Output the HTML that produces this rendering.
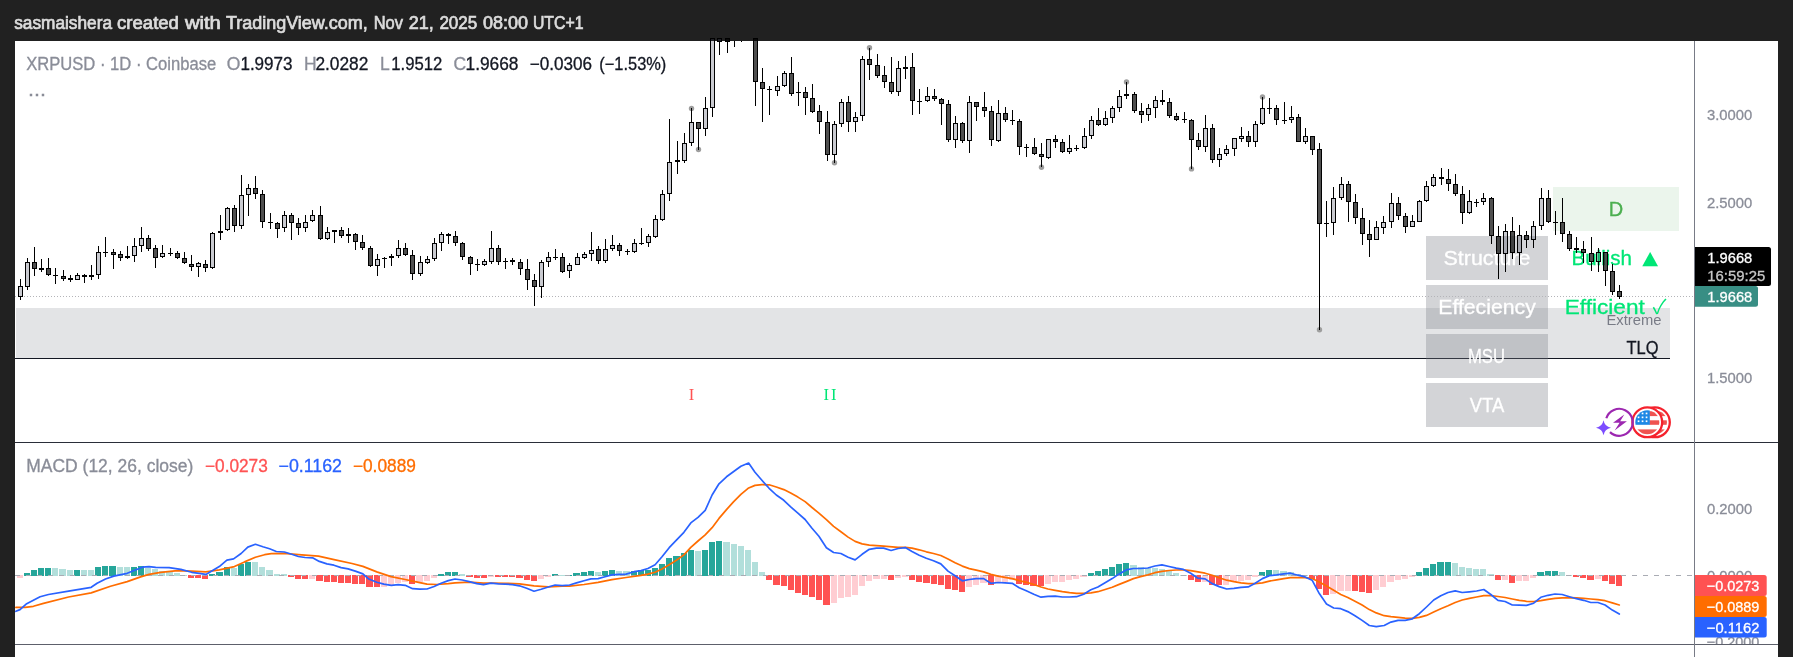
<!DOCTYPE html>
<html><head><meta charset="utf-8"><title>XRPUSD chart</title>
<style>html,body{margin:0;padding:0;background:#212121;overflow:hidden}body{width:1793px;height:657px;position:relative;font-family:"Liberation Sans",sans-serif}</style>
</head><body>
<svg width="1793" height="657" viewBox="0 0 1793 657" style="position:absolute;left:0;top:0;will-change:transform">
<rect x="15" y="41" width="1763" height="616" fill="#fff"/>
<g shape-rendering="crispEdges">
<rect x="16" y="308" width="1654" height="50" fill="#e3e4e6"/>
<rect x="15" y="358" width="1655" height="1" fill="#131722"/>
<rect x="1553" y="187" width="126" height="43.5" fill="#ebf5ec"/>
<rect x="1426" y="236" width="122" height="43.5" fill="rgb(120,123,134)" fill-opacity="0.33"/>
<rect x="1426" y="285" width="122" height="43.5" fill="rgb(120,123,134)" fill-opacity="0.33"/>
<rect x="1426" y="334" width="122" height="43.5" fill="rgb(120,123,134)" fill-opacity="0.33"/>
<rect x="1426" y="383" width="122" height="43.5" fill="rgb(120,123,134)" fill-opacity="0.33"/>
</g>
<line x1="15" y1="296.5" x2="1694" y2="296.5" stroke="#b4b4b8" stroke-width="1" stroke-dasharray="1 2" shape-rendering="crispEdges"/>
<text x="1616" y="216.4" font-size="20" fill="#4caf50" text-anchor="middle" font-weight="normal" style="font-family:'Liberation Sans',sans-serif"  stroke="#4caf50" stroke-width="0.3">D</text>
<text x="1487" y="264.8" font-size="20" fill="#fff" text-anchor="middle" font-weight="normal" style="font-family:'Liberation Sans',sans-serif" textLength="87" lengthAdjust="spacingAndGlyphs"  stroke="#fff" stroke-width="0.3">Structure</text>
<text x="1487" y="314" font-size="20" fill="#fff" text-anchor="middle" font-weight="normal" style="font-family:'Liberation Sans',sans-serif" textLength="97.5" lengthAdjust="spacingAndGlyphs"  stroke="#fff" stroke-width="0.3">Effeciency</text>
<text x="1486.5" y="363.3" font-size="20" fill="#fff" text-anchor="middle" font-weight="normal" style="font-family:'Liberation Sans',sans-serif" textLength="37" lengthAdjust="spacingAndGlyphs"  stroke="#fff" stroke-width="0.3">MSU</text>
<text x="1487" y="412.2" font-size="20" fill="#fff" text-anchor="middle" font-weight="normal" style="font-family:'Liberation Sans',sans-serif" textLength="34.5" lengthAdjust="spacingAndGlyphs"  stroke="#fff" stroke-width="0.3">VTA</text>
<text x="1571.5" y="264.8" font-size="20" fill="#00e676" text-anchor="start" font-weight="normal" style="font-family:'Liberation Sans',sans-serif" textLength="60.5" lengthAdjust="spacingAndGlyphs"  stroke="#00e676" stroke-width="0.3">Bullish</text>
<text x="1642.3" y="263.6" font-size="18.5" fill="#00e676" textLength="15.8" lengthAdjust="spacingAndGlyphs" style="font-family:'DejaVu Sans',sans-serif">▲</text>
<text x="1564.8" y="314" font-size="20" fill="#00e676" text-anchor="start" font-weight="normal" style="font-family:'Liberation Sans',sans-serif" textLength="80" lengthAdjust="spacingAndGlyphs"  stroke="#00e676" stroke-width="0.3">Efficient</text>
<text x="1652.7" y="314.2" font-size="20" fill="#00e676" style="font-family:'Noto Sans CJK JP',sans-serif">✓</text>
<text x="1661.5" y="325" font-size="15" fill="#787b86" text-anchor="end" font-weight="normal" style="font-family:'Liberation Sans',sans-serif" textLength="55" lengthAdjust="spacingAndGlyphs" >Extreme</text>
<text x="1658.5" y="354.3" font-size="17.5" fill="#131722" text-anchor="end" font-weight="normal" style="font-family:'Liberation Sans',sans-serif" textLength="32" lengthAdjust="spacingAndGlyphs"  stroke="#131722" stroke-width="0.3">TLQ</text>
<text x="691.5" y="399.5" font-size="16.5" fill="#ff5252" text-anchor="middle" style="font-family:'Liberation Serif',serif">I</text>
<text x="831" y="399.5" font-size="16.5" fill="#00e676" text-anchor="middle" letter-spacing="2" style="font-family:'Liberation Serif',serif">II</text>
<circle cx="691.5" cy="108.4" r="2.7" fill="#9e9e9e"/>
<circle cx="698.5" cy="149.5" r="2.7" fill="#9e9e9e"/>
<circle cx="834.5" cy="162.8" r="2.7" fill="#9e9e9e"/>
<circle cx="869.5" cy="47.7" r="2.7" fill="#9e9e9e"/>
<circle cx="1041.5" cy="167.2" r="2.7" fill="#9e9e9e"/>
<circle cx="1126.5" cy="82.0" r="2.7" fill="#9e9e9e"/>
<circle cx="1191.5" cy="168.9" r="2.7" fill="#9e9e9e"/>
<circle cx="1262.5" cy="96.9" r="2.7" fill="#9e9e9e"/>
<circle cx="1319.5" cy="329.8" r="2.7" fill="#9e9e9e"/>
<g shape-rendering="crispEdges">
<rect x="20.0" y="279" width="1" height="7" fill="#000"/>
<rect x="20.0" y="297" width="1" height="3" fill="#000"/>
<path d="M18.0,286h5v11h-5z M19.0,287v9h3v-9z" fill="#000" fill-rule="evenodd"/>
<rect x="19.0" y="287" width="3" height="9" fill="#1e223c" fill-opacity="0.24"/>
<rect x="27.0" y="258" width="1" height="4" fill="#000"/>
<rect x="27.0" y="287" width="1" height="3" fill="#000"/>
<path d="M25.0,262h5v25h-5z M26.0,263v23h3v-23z" fill="#000" fill-rule="evenodd"/>
<rect x="26.0" y="263" width="3" height="23" fill="#1e223c" fill-opacity="0.24"/>
<rect x="34.0" y="247" width="1" height="15" fill="#000"/>
<rect x="34.0" y="269" width="1" height="7" fill="#000"/>
<path d="M32.0,262h5v7h-5z M33.0,263v5h3v-5z" fill="#000" fill-rule="evenodd"/>
<rect x="33.0" y="263" width="3" height="5" fill="#000" fill-opacity="0.69"/>
<rect x="41.0" y="259" width="1" height="9" fill="#000"/>
<rect x="41.0" y="270" width="1" height="2" fill="#000"/>
<rect x="39.0" y="268" width="5" height="2" fill="#000"/>
<rect x="48.0" y="258" width="1" height="10" fill="#000"/>
<rect x="48.0" y="275" width="1" height="1" fill="#000"/>
<path d="M46.0,268h5v7h-5z M47.0,269v5h3v-5z" fill="#000" fill-rule="evenodd"/>
<rect x="47.0" y="269" width="3" height="5" fill="#000" fill-opacity="0.69"/>
<rect x="55.0" y="268" width="1" height="7" fill="#000"/>
<rect x="55.0" y="276" width="1" height="8" fill="#000"/>
<rect x="53.0" y="275" width="5" height="1" fill="#000"/>
<rect x="63.0" y="270" width="1" height="6" fill="#000"/>
<rect x="63.0" y="279" width="1" height="2" fill="#000"/>
<path d="M61.0,276h5v3h-5z M62.0,277v1h3v-1z" fill="#000" fill-rule="evenodd"/>
<rect x="62.0" y="277" width="3" height="1" fill="#000" fill-opacity="0.69"/>
<rect x="70.0" y="275" width="1" height="3" fill="#000"/>
<rect x="70.0" y="280" width="1" height="2" fill="#000"/>
<rect x="68.0" y="278" width="5" height="2" fill="#000"/>
<rect x="77.0" y="273" width="1" height="2" fill="#000"/>
<path d="M75.0,275h5v5h-5z M76.0,276v3h3v-3z" fill="#000" fill-rule="evenodd"/>
<rect x="76.0" y="276" width="3" height="3" fill="#1e223c" fill-opacity="0.24"/>
<rect x="84.0" y="274" width="1" height="1" fill="#000"/>
<rect x="84.0" y="277" width="1" height="6" fill="#000"/>
<rect x="82.0" y="275" width="5" height="2" fill="#000"/>
<rect x="91.0" y="265" width="1" height="10" fill="#000"/>
<rect x="91.0" y="277" width="1" height="3" fill="#000"/>
<rect x="89.0" y="275" width="5" height="2" fill="#000"/>
<rect x="98.0" y="246" width="1" height="6" fill="#000"/>
<rect x="98.0" y="275" width="1" height="4" fill="#000"/>
<path d="M96.0,252h5v23h-5z M97.0,253v21h3v-21z" fill="#000" fill-rule="evenodd"/>
<rect x="97.0" y="253" width="3" height="21" fill="#1e223c" fill-opacity="0.24"/>
<rect x="105.0" y="237" width="1" height="15" fill="#000"/>
<rect x="105.0" y="253" width="1" height="4" fill="#000"/>
<rect x="103.0" y="252" width="5" height="1" fill="#000"/>
<rect x="113.0" y="249" width="1" height="3" fill="#000"/>
<rect x="113.0" y="255" width="1" height="14" fill="#000"/>
<path d="M111.0,252h5v3h-5z M112.0,253v1h3v-1z" fill="#000" fill-rule="evenodd"/>
<rect x="112.0" y="253" width="3" height="1" fill="#000" fill-opacity="0.69"/>
<rect x="120.0" y="251" width="1" height="3" fill="#000"/>
<rect x="120.0" y="258" width="1" height="3" fill="#000"/>
<path d="M118.0,254h5v4h-5z M119.0,255v2h3v-2z" fill="#000" fill-rule="evenodd"/>
<rect x="119.0" y="255" width="3" height="2" fill="#000" fill-opacity="0.69"/>
<rect x="127.0" y="246" width="1" height="10" fill="#000"/>
<rect x="127.0" y="258" width="1" height="1" fill="#000"/>
<rect x="125.0" y="256" width="5" height="2" fill="#000"/>
<rect x="134.0" y="238" width="1" height="8" fill="#000"/>
<rect x="134.0" y="256" width="1" height="6" fill="#000"/>
<path d="M132.0,246h5v10h-5z M133.0,247v8h3v-8z" fill="#000" fill-rule="evenodd"/>
<rect x="133.0" y="247" width="3" height="8" fill="#1e223c" fill-opacity="0.24"/>
<rect x="141.0" y="227" width="1" height="11" fill="#000"/>
<rect x="141.0" y="246" width="1" height="6" fill="#000"/>
<path d="M139.0,238h5v8h-5z M140.0,239v6h3v-6z" fill="#000" fill-rule="evenodd"/>
<rect x="140.0" y="239" width="3" height="6" fill="#1e223c" fill-opacity="0.24"/>
<rect x="148.0" y="235" width="1" height="3" fill="#000"/>
<rect x="148.0" y="249" width="1" height="2" fill="#000"/>
<path d="M146.0,238h5v11h-5z M147.0,239v9h3v-9z" fill="#000" fill-rule="evenodd"/>
<rect x="147.0" y="239" width="3" height="9" fill="#000" fill-opacity="0.69"/>
<rect x="155.0" y="245" width="1" height="3" fill="#000"/>
<rect x="155.0" y="258" width="1" height="10" fill="#000"/>
<path d="M153.0,248h5v10h-5z M154.0,249v8h3v-8z" fill="#000" fill-rule="evenodd"/>
<rect x="154.0" y="249" width="3" height="8" fill="#000" fill-opacity="0.69"/>
<rect x="162.0" y="245" width="1" height="8" fill="#000"/>
<rect x="162.0" y="257" width="1" height="1" fill="#000"/>
<path d="M160.0,253h5v4h-5z M161.0,254v2h3v-2z" fill="#000" fill-rule="evenodd"/>
<rect x="161.0" y="254" width="3" height="2" fill="#1e223c" fill-opacity="0.24"/>
<rect x="170.0" y="248" width="1" height="5" fill="#000"/>
<rect x="170.0" y="254" width="1" height="2" fill="#000"/>
<rect x="168.0" y="253" width="5" height="1" fill="#000"/>
<rect x="177.0" y="251" width="1" height="2" fill="#000"/>
<rect x="177.0" y="258" width="1" height="1" fill="#000"/>
<path d="M175.0,253h5v5h-5z M176.0,254v3h3v-3z" fill="#000" fill-rule="evenodd"/>
<rect x="176.0" y="254" width="3" height="3" fill="#000" fill-opacity="0.69"/>
<rect x="184.0" y="252" width="1" height="6" fill="#000"/>
<rect x="184.0" y="263" width="1" height="1" fill="#000"/>
<path d="M182.0,258h5v5h-5z M183.0,259v3h3v-3z" fill="#000" fill-rule="evenodd"/>
<rect x="183.0" y="259" width="3" height="3" fill="#000" fill-opacity="0.69"/>
<rect x="191.0" y="255" width="1" height="9" fill="#000"/>
<rect x="191.0" y="267" width="1" height="4" fill="#000"/>
<path d="M189.0,264h5v3h-5z M190.0,265v1h3v-1z" fill="#000" fill-rule="evenodd"/>
<rect x="190.0" y="265" width="3" height="1" fill="#000" fill-opacity="0.69"/>
<rect x="198.0" y="262" width="1" height="1" fill="#000"/>
<rect x="198.0" y="267" width="1" height="10" fill="#000"/>
<path d="M196.0,263h5v4h-5z M197.0,264v2h3v-2z" fill="#000" fill-rule="evenodd"/>
<rect x="197.0" y="264" width="3" height="2" fill="#1e223c" fill-opacity="0.24"/>
<rect x="205.0" y="260" width="1" height="4" fill="#000"/>
<rect x="205.0" y="268" width="1" height="4" fill="#000"/>
<path d="M203.0,264h5v4h-5z M204.0,265v2h3v-2z" fill="#000" fill-rule="evenodd"/>
<rect x="204.0" y="265" width="3" height="2" fill="#000" fill-opacity="0.69"/>
<rect x="212.0" y="232" width="1" height="1" fill="#000"/>
<rect x="212.0" y="268" width="1" height="1" fill="#000"/>
<path d="M210.0,233h5v35h-5z M211.0,234v33h3v-33z" fill="#000" fill-rule="evenodd"/>
<rect x="211.0" y="234" width="3" height="33" fill="#1e223c" fill-opacity="0.24"/>
<rect x="220.0" y="215" width="1" height="16" fill="#000"/>
<rect x="220.0" y="233" width="1" height="7" fill="#000"/>
<rect x="218.0" y="231" width="5" height="2" fill="#000"/>
<rect x="227.0" y="207" width="1" height="1" fill="#000"/>
<rect x="227.0" y="230" width="1" height="1" fill="#000"/>
<path d="M225.0,208h5v22h-5z M226.0,209v20h3v-20z" fill="#000" fill-rule="evenodd"/>
<rect x="226.0" y="209" width="3" height="20" fill="#1e223c" fill-opacity="0.24"/>
<rect x="234.0" y="205" width="1" height="3" fill="#000"/>
<rect x="234.0" y="226" width="1" height="6" fill="#000"/>
<path d="M232.0,208h5v18h-5z M233.0,209v16h3v-16z" fill="#000" fill-rule="evenodd"/>
<rect x="233.0" y="209" width="3" height="16" fill="#000" fill-opacity="0.69"/>
<rect x="241.0" y="175" width="1" height="20" fill="#000"/>
<rect x="241.0" y="226" width="1" height="3" fill="#000"/>
<path d="M239.0,195h5v31h-5z M240.0,196v29h3v-29z" fill="#000" fill-rule="evenodd"/>
<rect x="240.0" y="196" width="3" height="29" fill="#1e223c" fill-opacity="0.24"/>
<rect x="248.0" y="184" width="1" height="4" fill="#000"/>
<rect x="248.0" y="195" width="1" height="21" fill="#000"/>
<path d="M246.0,188h5v7h-5z M247.0,189v5h3v-5z" fill="#000" fill-rule="evenodd"/>
<rect x="247.0" y="189" width="3" height="5" fill="#1e223c" fill-opacity="0.24"/>
<rect x="255.0" y="176" width="1" height="12" fill="#000"/>
<rect x="255.0" y="194" width="1" height="5" fill="#000"/>
<path d="M253.0,188h5v6h-5z M254.0,189v4h3v-4z" fill="#000" fill-rule="evenodd"/>
<rect x="254.0" y="189" width="3" height="4" fill="#000" fill-opacity="0.69"/>
<rect x="262.0" y="190" width="1" height="4" fill="#000"/>
<rect x="262.0" y="222" width="1" height="6" fill="#000"/>
<path d="M260.0,194h5v28h-5z M261.0,195v26h3v-26z" fill="#000" fill-rule="evenodd"/>
<rect x="261.0" y="195" width="3" height="26" fill="#000" fill-opacity="0.69"/>
<rect x="270.0" y="213" width="1" height="9" fill="#000"/>
<rect x="270.0" y="223" width="1" height="6" fill="#000"/>
<rect x="268.0" y="222" width="5" height="1" fill="#000"/>
<rect x="277.0" y="222" width="1" height="1" fill="#000"/>
<rect x="277.0" y="229" width="1" height="9" fill="#000"/>
<path d="M275.0,223h5v6h-5z M276.0,224v4h3v-4z" fill="#000" fill-rule="evenodd"/>
<rect x="276.0" y="224" width="3" height="4" fill="#000" fill-opacity="0.69"/>
<rect x="284.0" y="211" width="1" height="4" fill="#000"/>
<rect x="284.0" y="228" width="1" height="4" fill="#000"/>
<path d="M282.0,215h5v13h-5z M283.0,216v11h3v-11z" fill="#000" fill-rule="evenodd"/>
<rect x="283.0" y="216" width="3" height="11" fill="#1e223c" fill-opacity="0.24"/>
<rect x="291.0" y="213" width="1" height="2" fill="#000"/>
<rect x="291.0" y="223" width="1" height="17" fill="#000"/>
<path d="M289.0,215h5v8h-5z M290.0,216v6h3v-6z" fill="#000" fill-rule="evenodd"/>
<rect x="290.0" y="216" width="3" height="6" fill="#000" fill-opacity="0.69"/>
<rect x="298.0" y="218" width="1" height="5" fill="#000"/>
<rect x="298.0" y="228" width="1" height="7" fill="#000"/>
<path d="M296.0,223h5v5h-5z M297.0,224v3h3v-3z" fill="#000" fill-rule="evenodd"/>
<rect x="297.0" y="224" width="3" height="3" fill="#000" fill-opacity="0.69"/>
<rect x="305.0" y="215" width="1" height="7" fill="#000"/>
<rect x="305.0" y="228" width="1" height="4" fill="#000"/>
<path d="M303.0,222h5v6h-5z M304.0,223v4h3v-4z" fill="#000" fill-rule="evenodd"/>
<rect x="304.0" y="223" width="3" height="4" fill="#1e223c" fill-opacity="0.24"/>
<rect x="312.0" y="210" width="1" height="5" fill="#000"/>
<rect x="312.0" y="221" width="1" height="1" fill="#000"/>
<path d="M310.0,215h5v6h-5z M311.0,216v4h3v-4z" fill="#000" fill-rule="evenodd"/>
<rect x="311.0" y="216" width="3" height="4" fill="#1e223c" fill-opacity="0.24"/>
<rect x="320.0" y="206" width="1" height="9" fill="#000"/>
<rect x="320.0" y="239" width="1" height="1" fill="#000"/>
<path d="M318.0,215h5v24h-5z M319.0,216v22h3v-22z" fill="#000" fill-rule="evenodd"/>
<rect x="319.0" y="216" width="3" height="22" fill="#000" fill-opacity="0.69"/>
<rect x="327.0" y="227" width="1" height="5" fill="#000"/>
<rect x="327.0" y="239" width="1" height="1" fill="#000"/>
<path d="M325.0,232h5v7h-5z M326.0,233v5h3v-5z" fill="#000" fill-rule="evenodd"/>
<rect x="326.0" y="233" width="3" height="5" fill="#1e223c" fill-opacity="0.24"/>
<rect x="334.0" y="232" width="1" height="11" fill="#000"/>
<rect x="332.0" y="230" width="5" height="2" fill="#000"/>
<rect x="341.0" y="227" width="1" height="3" fill="#000"/>
<rect x="341.0" y="236" width="1" height="2" fill="#000"/>
<path d="M339.0,230h5v6h-5z M340.0,231v4h3v-4z" fill="#000" fill-rule="evenodd"/>
<rect x="340.0" y="231" width="3" height="4" fill="#000" fill-opacity="0.69"/>
<rect x="348.0" y="228" width="1" height="6" fill="#000"/>
<rect x="348.0" y="236" width="1" height="7" fill="#000"/>
<rect x="346.0" y="234" width="5" height="2" fill="#000"/>
<rect x="355.0" y="233" width="1" height="1" fill="#000"/>
<rect x="355.0" y="242" width="1" height="8" fill="#000"/>
<path d="M353.0,234h5v8h-5z M354.0,235v6h3v-6z" fill="#000" fill-rule="evenodd"/>
<rect x="354.0" y="235" width="3" height="6" fill="#000" fill-opacity="0.69"/>
<rect x="362.0" y="235" width="1" height="7" fill="#000"/>
<rect x="362.0" y="248" width="1" height="2" fill="#000"/>
<path d="M360.0,242h5v6h-5z M361.0,243v4h3v-4z" fill="#000" fill-rule="evenodd"/>
<rect x="361.0" y="243" width="3" height="4" fill="#000" fill-opacity="0.69"/>
<rect x="370.0" y="246" width="1" height="2" fill="#000"/>
<rect x="370.0" y="266" width="1" height="1" fill="#000"/>
<path d="M368.0,248h5v18h-5z M369.0,249v16h3v-16z" fill="#000" fill-rule="evenodd"/>
<rect x="369.0" y="249" width="3" height="16" fill="#000" fill-opacity="0.69"/>
<rect x="377.0" y="254" width="1" height="5" fill="#000"/>
<rect x="377.0" y="266" width="1" height="10" fill="#000"/>
<path d="M375.0,259h5v7h-5z M376.0,260v5h3v-5z" fill="#000" fill-rule="evenodd"/>
<rect x="376.0" y="260" width="3" height="5" fill="#1e223c" fill-opacity="0.24"/>
<rect x="384.0" y="257" width="1" height="1" fill="#000"/>
<rect x="384.0" y="258" width="1" height="10" fill="#000"/>
<rect x="382.0" y="258" width="5" height="1" fill="#000"/>
<rect x="391.0" y="254" width="1" height="2" fill="#000"/>
<rect x="391.0" y="258" width="1" height="8" fill="#000"/>
<rect x="389.0" y="256" width="5" height="2" fill="#000"/>
<rect x="398.0" y="240" width="1" height="8" fill="#000"/>
<rect x="398.0" y="256" width="1" height="2" fill="#000"/>
<path d="M396.0,248h5v8h-5z M397.0,249v6h3v-6z" fill="#000" fill-rule="evenodd"/>
<rect x="397.0" y="249" width="3" height="6" fill="#1e223c" fill-opacity="0.24"/>
<rect x="405.0" y="243" width="1" height="5" fill="#000"/>
<rect x="405.0" y="255" width="1" height="1" fill="#000"/>
<path d="M403.0,248h5v7h-5z M404.0,249v5h3v-5z" fill="#000" fill-rule="evenodd"/>
<rect x="404.0" y="249" width="3" height="5" fill="#000" fill-opacity="0.69"/>
<rect x="412.0" y="250" width="1" height="5" fill="#000"/>
<rect x="412.0" y="274" width="1" height="6" fill="#000"/>
<path d="M410.0,255h5v19h-5z M411.0,256v17h3v-17z" fill="#000" fill-rule="evenodd"/>
<rect x="411.0" y="256" width="3" height="17" fill="#000" fill-opacity="0.69"/>
<rect x="420.0" y="256" width="1" height="6" fill="#000"/>
<rect x="420.0" y="274" width="1" height="2" fill="#000"/>
<path d="M418.0,262h5v12h-5z M419.0,263v10h3v-10z" fill="#000" fill-rule="evenodd"/>
<rect x="419.0" y="263" width="3" height="10" fill="#1e223c" fill-opacity="0.24"/>
<rect x="427.0" y="256" width="1" height="3" fill="#000"/>
<rect x="427.0" y="263" width="1" height="1" fill="#000"/>
<path d="M425.0,259h5v4h-5z M426.0,260v2h3v-2z" fill="#000" fill-rule="evenodd"/>
<rect x="426.0" y="260" width="3" height="2" fill="#1e223c" fill-opacity="0.24"/>
<rect x="434.0" y="238" width="1" height="5" fill="#000"/>
<rect x="434.0" y="259" width="1" height="2" fill="#000"/>
<path d="M432.0,243h5v16h-5z M433.0,244v14h3v-14z" fill="#000" fill-rule="evenodd"/>
<rect x="433.0" y="244" width="3" height="14" fill="#1e223c" fill-opacity="0.24"/>
<rect x="441.0" y="232" width="1" height="2" fill="#000"/>
<rect x="441.0" y="243" width="1" height="8" fill="#000"/>
<path d="M439.0,234h5v9h-5z M440.0,235v7h3v-7z" fill="#000" fill-rule="evenodd"/>
<rect x="440.0" y="235" width="3" height="7" fill="#1e223c" fill-opacity="0.24"/>
<rect x="448.0" y="233" width="1" height="1" fill="#000"/>
<rect x="448.0" y="236" width="1" height="8" fill="#000"/>
<rect x="446.0" y="234" width="5" height="2" fill="#000"/>
<rect x="455.0" y="231" width="1" height="5" fill="#000"/>
<rect x="455.0" y="243" width="1" height="3" fill="#000"/>
<path d="M453.0,236h5v7h-5z M454.0,237v5h3v-5z" fill="#000" fill-rule="evenodd"/>
<rect x="454.0" y="237" width="3" height="5" fill="#000" fill-opacity="0.69"/>
<rect x="462.0" y="242" width="1" height="1" fill="#000"/>
<rect x="462.0" y="257" width="1" height="3" fill="#000"/>
<path d="M460.0,243h5v14h-5z M461.0,244v12h3v-12z" fill="#000" fill-rule="evenodd"/>
<rect x="461.0" y="244" width="3" height="12" fill="#000" fill-opacity="0.69"/>
<rect x="470.0" y="256" width="1" height="1" fill="#000"/>
<rect x="470.0" y="264" width="1" height="11" fill="#000"/>
<path d="M468.0,257h5v7h-5z M469.0,258v5h3v-5z" fill="#000" fill-rule="evenodd"/>
<rect x="469.0" y="258" width="3" height="5" fill="#000" fill-opacity="0.69"/>
<rect x="477.0" y="259" width="1" height="5" fill="#000"/>
<rect x="477.0" y="265" width="1" height="6" fill="#000"/>
<rect x="475.0" y="264" width="5" height="1" fill="#000"/>
<rect x="484.0" y="259" width="1" height="2" fill="#000"/>
<rect x="484.0" y="265" width="1" height="1" fill="#000"/>
<path d="M482.0,261h5v4h-5z M483.0,262v2h3v-2z" fill="#000" fill-rule="evenodd"/>
<rect x="483.0" y="262" width="3" height="2" fill="#1e223c" fill-opacity="0.24"/>
<rect x="491.0" y="231" width="1" height="17" fill="#000"/>
<rect x="491.0" y="262" width="1" height="2" fill="#000"/>
<path d="M489.0,248h5v14h-5z M490.0,249v12h3v-12z" fill="#000" fill-rule="evenodd"/>
<rect x="490.0" y="249" width="3" height="12" fill="#1e223c" fill-opacity="0.24"/>
<rect x="498.0" y="245" width="1" height="3" fill="#000"/>
<rect x="498.0" y="262" width="1" height="3" fill="#000"/>
<path d="M496.0,248h5v14h-5z M497.0,249v12h3v-12z" fill="#000" fill-rule="evenodd"/>
<rect x="497.0" y="249" width="3" height="12" fill="#000" fill-opacity="0.69"/>
<rect x="505.0" y="258" width="1" height="3" fill="#000"/>
<rect x="505.0" y="262" width="1" height="7" fill="#000"/>
<rect x="503.0" y="261" width="5" height="1" fill="#000"/>
<rect x="512.0" y="258" width="1" height="2" fill="#000"/>
<rect x="512.0" y="262" width="1" height="3" fill="#000"/>
<rect x="510.0" y="260" width="5" height="2" fill="#000"/>
<rect x="520.0" y="259" width="1" height="3" fill="#000"/>
<rect x="520.0" y="269" width="1" height="6" fill="#000"/>
<path d="M518.0,262h5v7h-5z M519.0,263v5h3v-5z" fill="#000" fill-rule="evenodd"/>
<rect x="519.0" y="263" width="3" height="5" fill="#000" fill-opacity="0.69"/>
<rect x="527.0" y="259" width="1" height="10" fill="#000"/>
<rect x="527.0" y="280" width="1" height="10" fill="#000"/>
<path d="M525.0,269h5v11h-5z M526.0,270v9h3v-9z" fill="#000" fill-rule="evenodd"/>
<rect x="526.0" y="270" width="3" height="9" fill="#000" fill-opacity="0.69"/>
<rect x="534.0" y="274" width="1" height="6" fill="#000"/>
<rect x="534.0" y="287" width="1" height="19" fill="#000"/>
<path d="M532.0,280h5v7h-5z M533.0,281v5h3v-5z" fill="#000" fill-rule="evenodd"/>
<rect x="533.0" y="281" width="3" height="5" fill="#000" fill-opacity="0.69"/>
<rect x="541.0" y="260" width="1" height="2" fill="#000"/>
<rect x="541.0" y="287" width="1" height="11" fill="#000"/>
<path d="M539.0,262h5v25h-5z M540.0,263v23h3v-23z" fill="#000" fill-rule="evenodd"/>
<rect x="540.0" y="263" width="3" height="23" fill="#1e223c" fill-opacity="0.24"/>
<rect x="548.0" y="252" width="1" height="5" fill="#000"/>
<rect x="548.0" y="262" width="1" height="5" fill="#000"/>
<path d="M546.0,257h5v5h-5z M547.0,258v3h3v-3z" fill="#000" fill-rule="evenodd"/>
<rect x="547.0" y="258" width="3" height="3" fill="#1e223c" fill-opacity="0.24"/>
<rect x="555.0" y="249" width="1" height="8" fill="#000"/>
<rect x="555.0" y="258" width="1" height="2" fill="#000"/>
<rect x="553.0" y="257" width="5" height="1" fill="#000"/>
<rect x="562.0" y="253" width="1" height="4" fill="#000"/>
<rect x="562.0" y="272" width="1" height="1" fill="#000"/>
<path d="M560.0,257h5v15h-5z M561.0,258v13h3v-13z" fill="#000" fill-rule="evenodd"/>
<rect x="561.0" y="258" width="3" height="13" fill="#000" fill-opacity="0.69"/>
<rect x="569.0" y="263" width="1" height="2" fill="#000"/>
<rect x="569.0" y="271" width="1" height="7" fill="#000"/>
<path d="M567.0,265h5v6h-5z M568.0,266v4h3v-4z" fill="#000" fill-rule="evenodd"/>
<rect x="568.0" y="266" width="3" height="4" fill="#1e223c" fill-opacity="0.24"/>
<rect x="577.0" y="253" width="1" height="4" fill="#000"/>
<path d="M575.0,257h5v8h-5z M576.0,258v6h3v-6z" fill="#000" fill-rule="evenodd"/>
<rect x="576.0" y="258" width="3" height="6" fill="#1e223c" fill-opacity="0.24"/>
<rect x="584.0" y="252" width="1" height="2" fill="#000"/>
<rect x="584.0" y="258" width="1" height="1" fill="#000"/>
<path d="M582.0,254h5v4h-5z M583.0,255v2h3v-2z" fill="#000" fill-rule="evenodd"/>
<rect x="583.0" y="255" width="3" height="2" fill="#1e223c" fill-opacity="0.24"/>
<rect x="591.0" y="232" width="1" height="18" fill="#000"/>
<rect x="591.0" y="254" width="1" height="7" fill="#000"/>
<path d="M589.0,250h5v4h-5z M590.0,251v2h3v-2z" fill="#000" fill-rule="evenodd"/>
<rect x="590.0" y="251" width="3" height="2" fill="#1e223c" fill-opacity="0.24"/>
<rect x="598.0" y="246" width="1" height="3" fill="#000"/>
<rect x="598.0" y="261" width="1" height="3" fill="#000"/>
<path d="M596.0,249h5v12h-5z M597.0,250v10h3v-10z" fill="#000" fill-rule="evenodd"/>
<rect x="597.0" y="250" width="3" height="10" fill="#000" fill-opacity="0.69"/>
<rect x="605.0" y="239" width="1" height="10" fill="#000"/>
<rect x="605.0" y="261" width="1" height="2" fill="#000"/>
<path d="M603.0,249h5v12h-5z M604.0,250v10h3v-10z" fill="#000" fill-rule="evenodd"/>
<rect x="604.0" y="250" width="3" height="10" fill="#1e223c" fill-opacity="0.24"/>
<rect x="612.0" y="235" width="1" height="10" fill="#000"/>
<rect x="612.0" y="249" width="1" height="2" fill="#000"/>
<path d="M610.0,245h5v4h-5z M611.0,246v2h3v-2z" fill="#000" fill-rule="evenodd"/>
<rect x="611.0" y="246" width="3" height="2" fill="#1e223c" fill-opacity="0.24"/>
<rect x="619.0" y="243" width="1" height="2" fill="#000"/>
<rect x="619.0" y="251" width="1" height="5" fill="#000"/>
<path d="M617.0,245h5v6h-5z M618.0,246v4h3v-4z" fill="#000" fill-rule="evenodd"/>
<rect x="618.0" y="246" width="3" height="4" fill="#000" fill-opacity="0.69"/>
<rect x="627.0" y="249" width="1" height="2" fill="#000"/>
<rect x="627.0" y="252" width="1" height="3" fill="#000"/>
<rect x="625.0" y="251" width="5" height="1" fill="#000"/>
<rect x="634.0" y="239" width="1" height="4" fill="#000"/>
<rect x="634.0" y="252" width="1" height="1" fill="#000"/>
<path d="M632.0,243h5v9h-5z M633.0,244v7h3v-7z" fill="#000" fill-rule="evenodd"/>
<rect x="633.0" y="244" width="3" height="7" fill="#1e223c" fill-opacity="0.24"/>
<rect x="641.0" y="228" width="1" height="15" fill="#000"/>
<rect x="641.0" y="244" width="1" height="1" fill="#000"/>
<rect x="639.0" y="243" width="5" height="1" fill="#000"/>
<rect x="648.0" y="234" width="1" height="2" fill="#000"/>
<rect x="648.0" y="243" width="1" height="4" fill="#000"/>
<path d="M646.0,236h5v7h-5z M647.0,237v5h3v-5z" fill="#000" fill-rule="evenodd"/>
<rect x="647.0" y="237" width="3" height="5" fill="#1e223c" fill-opacity="0.24"/>
<rect x="655.0" y="215" width="1" height="4" fill="#000"/>
<rect x="655.0" y="237" width="1" height="1" fill="#000"/>
<path d="M653.0,219h5v18h-5z M654.0,220v16h3v-16z" fill="#000" fill-rule="evenodd"/>
<rect x="654.0" y="220" width="3" height="16" fill="#1e223c" fill-opacity="0.24"/>
<rect x="662.0" y="190" width="1" height="4" fill="#000"/>
<rect x="662.0" y="220" width="1" height="1" fill="#000"/>
<path d="M660.0,194h5v26h-5z M661.0,195v24h3v-24z" fill="#000" fill-rule="evenodd"/>
<rect x="661.0" y="195" width="3" height="24" fill="#1e223c" fill-opacity="0.24"/>
<rect x="669.0" y="119" width="1" height="43" fill="#000"/>
<rect x="669.0" y="194" width="1" height="7" fill="#000"/>
<path d="M667.0,162h5v32h-5z M668.0,163v30h3v-30z" fill="#000" fill-rule="evenodd"/>
<rect x="668.0" y="163" width="3" height="30" fill="#1e223c" fill-opacity="0.24"/>
<rect x="677.0" y="141" width="1" height="19" fill="#000"/>
<rect x="677.0" y="162" width="1" height="12" fill="#000"/>
<rect x="675.0" y="160" width="5" height="2" fill="#000"/>
<rect x="684.0" y="133" width="1" height="10" fill="#000"/>
<rect x="684.0" y="161" width="1" height="2" fill="#000"/>
<path d="M682.0,143h5v18h-5z M683.0,144v16h3v-16z" fill="#000" fill-rule="evenodd"/>
<rect x="683.0" y="144" width="3" height="16" fill="#1e223c" fill-opacity="0.24"/>
<rect x="691.0" y="108" width="1" height="14" fill="#000"/>
<rect x="691.0" y="143" width="1" height="3" fill="#000"/>
<path d="M689.0,122h5v21h-5z M690.0,123v19h3v-19z" fill="#000" fill-rule="evenodd"/>
<rect x="690.0" y="123" width="3" height="19" fill="#1e223c" fill-opacity="0.24"/>
<rect x="698.0" y="129" width="1" height="21" fill="#000"/>
<path d="M696.0,122h5v7h-5z M697.0,123v5h3v-5z" fill="#000" fill-rule="evenodd"/>
<rect x="697.0" y="123" width="3" height="5" fill="#000" fill-opacity="0.69"/>
<rect x="705.0" y="97" width="1" height="11" fill="#000"/>
<rect x="705.0" y="129" width="1" height="7" fill="#000"/>
<path d="M703.0,108h5v21h-5z M704.0,109v19h3v-19z" fill="#000" fill-rule="evenodd"/>
<rect x="704.0" y="109" width="3" height="19" fill="#1e223c" fill-opacity="0.24"/>
<rect x="712.0" y="108" width="1" height="9" fill="#000"/>
<path d="M710.0,38h5v70h-5z M711.0,39v68h3v-68z" fill="#000" fill-rule="evenodd"/>
<rect x="711.0" y="39" width="3" height="68" fill="#1e223c" fill-opacity="0.24"/>
<rect x="719.0" y="42" width="1" height="13" fill="#000"/>
<path d="M717.0,38h5v4h-5z M718.0,39v2h3v-2z" fill="#000" fill-rule="evenodd"/>
<rect x="718.0" y="39" width="3" height="2" fill="#1e223c" fill-opacity="0.24"/>
<rect x="727.0" y="42" width="1" height="11" fill="#000"/>
<path d="M725.0,38h5v4h-5z M726.0,39v2h3v-2z" fill="#000" fill-rule="evenodd"/>
<rect x="726.0" y="39" width="3" height="2" fill="#000" fill-opacity="0.69"/>
<rect x="734.0" y="41" width="1" height="6" fill="#000"/>
<rect x="741.0" y="41" width="1" height="1" fill="#000"/>
<rect x="755.0" y="82" width="1" height="24" fill="#000"/>
<path d="M753.0,38h5v44h-5z M754.0,39v42h3v-42z" fill="#000" fill-rule="evenodd"/>
<rect x="754.0" y="39" width="3" height="42" fill="#000" fill-opacity="0.69"/>
<rect x="762.0" y="68" width="1" height="14" fill="#000"/>
<rect x="762.0" y="89" width="1" height="33" fill="#000"/>
<path d="M760.0,82h5v7h-5z M761.0,83v5h3v-5z" fill="#000" fill-rule="evenodd"/>
<rect x="761.0" y="83" width="3" height="5" fill="#000" fill-opacity="0.69"/>
<rect x="769.0" y="86" width="1" height="3" fill="#000"/>
<rect x="769.0" y="90" width="1" height="25" fill="#000"/>
<rect x="767.0" y="89" width="5" height="1" fill="#000"/>
<rect x="777.0" y="76" width="1" height="10" fill="#000"/>
<rect x="777.0" y="91" width="1" height="5" fill="#000"/>
<path d="M775.0,86h5v5h-5z M776.0,87v3h3v-3z" fill="#000" fill-rule="evenodd"/>
<rect x="776.0" y="87" width="3" height="3" fill="#1e223c" fill-opacity="0.24"/>
<rect x="784.0" y="71" width="1" height="2" fill="#000"/>
<rect x="784.0" y="86" width="1" height="1" fill="#000"/>
<path d="M782.0,73h5v13h-5z M783.0,74v11h3v-11z" fill="#000" fill-rule="evenodd"/>
<rect x="783.0" y="74" width="3" height="11" fill="#1e223c" fill-opacity="0.24"/>
<rect x="791.0" y="57" width="1" height="16" fill="#000"/>
<rect x="791.0" y="94" width="1" height="2" fill="#000"/>
<path d="M789.0,73h5v21h-5z M790.0,74v19h3v-19z" fill="#000" fill-rule="evenodd"/>
<rect x="790.0" y="74" width="3" height="19" fill="#000" fill-opacity="0.69"/>
<rect x="798.0" y="82" width="1" height="10" fill="#000"/>
<rect x="798.0" y="93" width="1" height="13" fill="#000"/>
<rect x="796.0" y="92" width="5" height="1" fill="#000"/>
<rect x="805.0" y="87" width="1" height="5" fill="#000"/>
<rect x="805.0" y="98" width="1" height="17" fill="#000"/>
<path d="M803.0,92h5v6h-5z M804.0,93v4h3v-4z" fill="#000" fill-rule="evenodd"/>
<rect x="804.0" y="93" width="3" height="4" fill="#000" fill-opacity="0.69"/>
<rect x="812.0" y="84" width="1" height="14" fill="#000"/>
<rect x="812.0" y="112" width="1" height="1" fill="#000"/>
<path d="M810.0,98h5v14h-5z M811.0,99v12h3v-12z" fill="#000" fill-rule="evenodd"/>
<rect x="811.0" y="99" width="3" height="12" fill="#000" fill-opacity="0.69"/>
<rect x="819.0" y="105" width="1" height="6" fill="#000"/>
<rect x="819.0" y="122" width="1" height="12" fill="#000"/>
<path d="M817.0,111h5v11h-5z M818.0,112v9h3v-9z" fill="#000" fill-rule="evenodd"/>
<rect x="818.0" y="112" width="3" height="9" fill="#000" fill-opacity="0.69"/>
<rect x="827.0" y="111" width="1" height="11" fill="#000"/>
<rect x="827.0" y="155" width="1" height="6" fill="#000"/>
<path d="M825.0,122h5v33h-5z M826.0,123v31h3v-31z" fill="#000" fill-rule="evenodd"/>
<rect x="826.0" y="123" width="3" height="31" fill="#000" fill-opacity="0.69"/>
<rect x="834.0" y="121" width="1" height="3" fill="#000"/>
<rect x="834.0" y="155" width="1" height="8" fill="#000"/>
<path d="M832.0,124h5v31h-5z M833.0,125v29h3v-29z" fill="#000" fill-rule="evenodd"/>
<rect x="833.0" y="125" width="3" height="29" fill="#1e223c" fill-opacity="0.24"/>
<rect x="841.0" y="99" width="1" height="3" fill="#000"/>
<rect x="841.0" y="124" width="1" height="3" fill="#000"/>
<path d="M839.0,102h5v22h-5z M840.0,103v20h3v-20z" fill="#000" fill-rule="evenodd"/>
<rect x="840.0" y="103" width="3" height="20" fill="#1e223c" fill-opacity="0.24"/>
<rect x="848.0" y="96" width="1" height="6" fill="#000"/>
<rect x="848.0" y="122" width="1" height="10" fill="#000"/>
<path d="M846.0,102h5v20h-5z M847.0,103v18h3v-18z" fill="#000" fill-rule="evenodd"/>
<rect x="847.0" y="103" width="3" height="18" fill="#000" fill-opacity="0.69"/>
<rect x="855.0" y="112" width="1" height="5" fill="#000"/>
<rect x="855.0" y="122" width="1" height="10" fill="#000"/>
<path d="M853.0,117h5v5h-5z M854.0,118v3h3v-3z" fill="#000" fill-rule="evenodd"/>
<rect x="854.0" y="118" width="3" height="3" fill="#1e223c" fill-opacity="0.24"/>
<rect x="862.0" y="56" width="1" height="3" fill="#000"/>
<rect x="862.0" y="116" width="1" height="5" fill="#000"/>
<path d="M860.0,59h5v57h-5z M861.0,60v55h3v-55z" fill="#000" fill-rule="evenodd"/>
<rect x="861.0" y="60" width="3" height="55" fill="#1e223c" fill-opacity="0.24"/>
<rect x="869.0" y="48" width="1" height="11" fill="#000"/>
<rect x="869.0" y="65" width="1" height="15" fill="#000"/>
<path d="M867.0,59h5v6h-5z M868.0,60v4h3v-4z" fill="#000" fill-rule="evenodd"/>
<rect x="868.0" y="60" width="3" height="4" fill="#000" fill-opacity="0.69"/>
<rect x="877.0" y="54" width="1" height="11" fill="#000"/>
<rect x="877.0" y="76" width="1" height="2" fill="#000"/>
<path d="M875.0,65h5v11h-5z M876.0,66v9h3v-9z" fill="#000" fill-rule="evenodd"/>
<rect x="876.0" y="66" width="3" height="9" fill="#000" fill-opacity="0.69"/>
<rect x="884.0" y="66" width="1" height="9" fill="#000"/>
<rect x="884.0" y="82" width="1" height="6" fill="#000"/>
<path d="M882.0,75h5v7h-5z M883.0,76v5h3v-5z" fill="#000" fill-rule="evenodd"/>
<rect x="883.0" y="76" width="3" height="5" fill="#000" fill-opacity="0.69"/>
<rect x="891.0" y="57" width="1" height="25" fill="#000"/>
<rect x="891.0" y="92" width="1" height="2" fill="#000"/>
<path d="M889.0,82h5v10h-5z M890.0,83v8h3v-8z" fill="#000" fill-rule="evenodd"/>
<rect x="890.0" y="83" width="3" height="8" fill="#000" fill-opacity="0.69"/>
<rect x="898.0" y="61" width="1" height="7" fill="#000"/>
<rect x="898.0" y="92" width="1" height="4" fill="#000"/>
<path d="M896.0,68h5v24h-5z M897.0,69v22h3v-22z" fill="#000" fill-rule="evenodd"/>
<rect x="897.0" y="69" width="3" height="22" fill="#1e223c" fill-opacity="0.24"/>
<rect x="905.0" y="56" width="1" height="11" fill="#000"/>
<rect x="905.0" y="69" width="1" height="10" fill="#000"/>
<rect x="903.0" y="67" width="5" height="2" fill="#000"/>
<rect x="912.0" y="53" width="1" height="14" fill="#000"/>
<rect x="912.0" y="101" width="1" height="14" fill="#000"/>
<path d="M910.0,67h5v34h-5z M911.0,68v32h3v-32z" fill="#000" fill-rule="evenodd"/>
<rect x="911.0" y="68" width="3" height="32" fill="#000" fill-opacity="0.69"/>
<rect x="919.0" y="89" width="1" height="12" fill="#000"/>
<rect x="919.0" y="102" width="1" height="12" fill="#000"/>
<rect x="917.0" y="101" width="5" height="1" fill="#000"/>
<rect x="927.0" y="87" width="1" height="9" fill="#000"/>
<rect x="927.0" y="101" width="1" height="1" fill="#000"/>
<path d="M925.0,96h5v5h-5z M926.0,97v3h3v-3z" fill="#000" fill-rule="evenodd"/>
<rect x="926.0" y="97" width="3" height="3" fill="#1e223c" fill-opacity="0.24"/>
<rect x="934.0" y="89" width="1" height="7" fill="#000"/>
<rect x="934.0" y="99" width="1" height="2" fill="#000"/>
<path d="M932.0,96h5v3h-5z M933.0,97v1h3v-1z" fill="#000" fill-rule="evenodd"/>
<rect x="933.0" y="97" width="3" height="1" fill="#000" fill-opacity="0.69"/>
<rect x="941.0" y="98" width="1" height="1" fill="#000"/>
<rect x="941.0" y="104" width="1" height="21" fill="#000"/>
<path d="M939.0,99h5v5h-5z M940.0,100v3h3v-3z" fill="#000" fill-rule="evenodd"/>
<rect x="940.0" y="100" width="3" height="3" fill="#000" fill-opacity="0.69"/>
<rect x="948.0" y="100" width="1" height="4" fill="#000"/>
<rect x="948.0" y="140" width="1" height="2" fill="#000"/>
<path d="M946.0,104h5v36h-5z M947.0,105v34h3v-34z" fill="#000" fill-rule="evenodd"/>
<rect x="947.0" y="105" width="3" height="34" fill="#000" fill-opacity="0.69"/>
<rect x="955.0" y="116" width="1" height="7" fill="#000"/>
<rect x="955.0" y="140" width="1" height="8" fill="#000"/>
<path d="M953.0,123h5v17h-5z M954.0,124v15h3v-15z" fill="#000" fill-rule="evenodd"/>
<rect x="954.0" y="124" width="3" height="15" fill="#1e223c" fill-opacity="0.24"/>
<rect x="962.0" y="122" width="1" height="1" fill="#000"/>
<rect x="962.0" y="141" width="1" height="2" fill="#000"/>
<path d="M960.0,123h5v18h-5z M961.0,124v16h3v-16z" fill="#000" fill-rule="evenodd"/>
<rect x="961.0" y="124" width="3" height="16" fill="#000" fill-opacity="0.69"/>
<rect x="969.0" y="96" width="1" height="6" fill="#000"/>
<rect x="969.0" y="141" width="1" height="12" fill="#000"/>
<path d="M967.0,102h5v39h-5z M968.0,103v37h3v-37z" fill="#000" fill-rule="evenodd"/>
<rect x="968.0" y="103" width="3" height="37" fill="#1e223c" fill-opacity="0.24"/>
<rect x="976.0" y="107" width="1" height="14" fill="#000"/>
<path d="M974.0,102h5v5h-5z M975.0,103v3h3v-3z" fill="#000" fill-rule="evenodd"/>
<rect x="975.0" y="103" width="3" height="3" fill="#000" fill-opacity="0.69"/>
<rect x="984.0" y="92" width="1" height="15" fill="#000"/>
<rect x="984.0" y="111" width="1" height="6" fill="#000"/>
<path d="M982.0,107h5v4h-5z M983.0,108v2h3v-2z" fill="#000" fill-rule="evenodd"/>
<rect x="983.0" y="108" width="3" height="2" fill="#000" fill-opacity="0.69"/>
<rect x="991.0" y="106" width="1" height="5" fill="#000"/>
<rect x="991.0" y="140" width="1" height="6" fill="#000"/>
<path d="M989.0,111h5v29h-5z M990.0,112v27h3v-27z" fill="#000" fill-rule="evenodd"/>
<rect x="990.0" y="112" width="3" height="27" fill="#000" fill-opacity="0.69"/>
<rect x="998.0" y="100" width="1" height="13" fill="#000"/>
<rect x="998.0" y="141" width="1" height="1" fill="#000"/>
<path d="M996.0,113h5v28h-5z M997.0,114v26h3v-26z" fill="#000" fill-rule="evenodd"/>
<rect x="997.0" y="114" width="3" height="26" fill="#1e223c" fill-opacity="0.24"/>
<rect x="1005.0" y="107" width="1" height="6" fill="#000"/>
<rect x="1005.0" y="120" width="1" height="2" fill="#000"/>
<path d="M1003.0,113h5v7h-5z M1004.0,114v5h3v-5z" fill="#000" fill-rule="evenodd"/>
<rect x="1004.0" y="114" width="3" height="5" fill="#000" fill-opacity="0.69"/>
<rect x="1012.0" y="110" width="1" height="10" fill="#000"/>
<rect x="1012.0" y="121" width="1" height="4" fill="#000"/>
<rect x="1010.0" y="120" width="5" height="1" fill="#000"/>
<rect x="1019.0" y="119" width="1" height="2" fill="#000"/>
<rect x="1019.0" y="147" width="1" height="8" fill="#000"/>
<path d="M1017.0,121h5v26h-5z M1018.0,122v24h3v-24z" fill="#000" fill-rule="evenodd"/>
<rect x="1018.0" y="122" width="3" height="24" fill="#000" fill-opacity="0.69"/>
<rect x="1026.0" y="144" width="1" height="3" fill="#000"/>
<rect x="1026.0" y="148" width="1" height="9" fill="#000"/>
<rect x="1024.0" y="147" width="5" height="1" fill="#000"/>
<rect x="1034.0" y="138" width="1" height="9" fill="#000"/>
<rect x="1034.0" y="154" width="1" height="1" fill="#000"/>
<path d="M1032.0,147h5v7h-5z M1033.0,148v5h3v-5z" fill="#000" fill-rule="evenodd"/>
<rect x="1033.0" y="148" width="3" height="5" fill="#000" fill-opacity="0.69"/>
<rect x="1041.0" y="143" width="1" height="11" fill="#000"/>
<rect x="1041.0" y="157" width="1" height="10" fill="#000"/>
<path d="M1039.0,154h5v3h-5z M1040.0,155v1h3v-1z" fill="#000" fill-rule="evenodd"/>
<rect x="1040.0" y="155" width="3" height="1" fill="#000" fill-opacity="0.69"/>
<rect x="1048.0" y="158" width="1" height="1" fill="#000"/>
<path d="M1046.0,139h5v19h-5z M1047.0,140v17h3v-17z" fill="#000" fill-rule="evenodd"/>
<rect x="1047.0" y="140" width="3" height="17" fill="#1e223c" fill-opacity="0.24"/>
<rect x="1055.0" y="135" width="1" height="4" fill="#000"/>
<rect x="1055.0" y="142" width="1" height="6" fill="#000"/>
<path d="M1053.0,139h5v3h-5z M1054.0,140v1h3v-1z" fill="#000" fill-rule="evenodd"/>
<rect x="1054.0" y="140" width="3" height="1" fill="#000" fill-opacity="0.69"/>
<rect x="1062.0" y="139" width="1" height="3" fill="#000"/>
<rect x="1062.0" y="152" width="1" height="1" fill="#000"/>
<path d="M1060.0,142h5v10h-5z M1061.0,143v8h3v-8z" fill="#000" fill-rule="evenodd"/>
<rect x="1061.0" y="143" width="3" height="8" fill="#000" fill-opacity="0.69"/>
<rect x="1069.0" y="135" width="1" height="13" fill="#000"/>
<rect x="1069.0" y="152" width="1" height="2" fill="#000"/>
<path d="M1067.0,148h5v4h-5z M1068.0,149v2h3v-2z" fill="#000" fill-rule="evenodd"/>
<rect x="1068.0" y="149" width="3" height="2" fill="#1e223c" fill-opacity="0.24"/>
<rect x="1076.0" y="145" width="1" height="3" fill="#000"/>
<rect x="1076.0" y="148" width="1" height="3" fill="#000"/>
<rect x="1074.0" y="148" width="5" height="1" fill="#000"/>
<rect x="1084.0" y="128" width="1" height="8" fill="#000"/>
<rect x="1084.0" y="148" width="1" height="1" fill="#000"/>
<path d="M1082.0,136h5v12h-5z M1083.0,137v10h3v-10z" fill="#000" fill-rule="evenodd"/>
<rect x="1083.0" y="137" width="3" height="10" fill="#1e223c" fill-opacity="0.24"/>
<rect x="1091.0" y="116" width="1" height="4" fill="#000"/>
<rect x="1091.0" y="136" width="1" height="3" fill="#000"/>
<path d="M1089.0,120h5v16h-5z M1090.0,121v14h3v-14z" fill="#000" fill-rule="evenodd"/>
<rect x="1090.0" y="121" width="3" height="14" fill="#1e223c" fill-opacity="0.24"/>
<rect x="1098.0" y="108" width="1" height="12" fill="#000"/>
<rect x="1098.0" y="125" width="1" height="1" fill="#000"/>
<path d="M1096.0,120h5v5h-5z M1097.0,121v3h3v-3z" fill="#000" fill-rule="evenodd"/>
<rect x="1097.0" y="121" width="3" height="3" fill="#000" fill-opacity="0.69"/>
<rect x="1105.0" y="111" width="1" height="7" fill="#000"/>
<rect x="1105.0" y="125" width="1" height="1" fill="#000"/>
<path d="M1103.0,118h5v7h-5z M1104.0,119v5h3v-5z" fill="#000" fill-rule="evenodd"/>
<rect x="1104.0" y="119" width="3" height="5" fill="#1e223c" fill-opacity="0.24"/>
<rect x="1112.0" y="106" width="1" height="2" fill="#000"/>
<rect x="1112.0" y="118" width="1" height="5" fill="#000"/>
<path d="M1110.0,108h5v10h-5z M1111.0,109v8h3v-8z" fill="#000" fill-rule="evenodd"/>
<rect x="1111.0" y="109" width="3" height="8" fill="#1e223c" fill-opacity="0.24"/>
<rect x="1119.0" y="90" width="1" height="6" fill="#000"/>
<rect x="1119.0" y="108" width="1" height="4" fill="#000"/>
<path d="M1117.0,96h5v12h-5z M1118.0,97v10h3v-10z" fill="#000" fill-rule="evenodd"/>
<rect x="1118.0" y="97" width="3" height="10" fill="#1e223c" fill-opacity="0.24"/>
<rect x="1126.0" y="82" width="1" height="12" fill="#000"/>
<rect x="1126.0" y="96" width="1" height="3" fill="#000"/>
<rect x="1124.0" y="94" width="5" height="2" fill="#000"/>
<rect x="1134.0" y="92" width="1" height="2" fill="#000"/>
<rect x="1134.0" y="111" width="1" height="2" fill="#000"/>
<path d="M1132.0,94h5v17h-5z M1133.0,95v15h3v-15z" fill="#000" fill-rule="evenodd"/>
<rect x="1133.0" y="95" width="3" height="15" fill="#000" fill-opacity="0.69"/>
<rect x="1141.0" y="103" width="1" height="8" fill="#000"/>
<rect x="1141.0" y="115" width="1" height="8" fill="#000"/>
<path d="M1139.0,111h5v4h-5z M1140.0,112v2h3v-2z" fill="#000" fill-rule="evenodd"/>
<rect x="1140.0" y="112" width="3" height="2" fill="#000" fill-opacity="0.69"/>
<rect x="1148.0" y="104" width="1" height="4" fill="#000"/>
<rect x="1148.0" y="115" width="1" height="6" fill="#000"/>
<path d="M1146.0,108h5v7h-5z M1147.0,109v5h3v-5z" fill="#000" fill-rule="evenodd"/>
<rect x="1147.0" y="109" width="3" height="5" fill="#1e223c" fill-opacity="0.24"/>
<rect x="1155.0" y="96" width="1" height="4" fill="#000"/>
<rect x="1155.0" y="108" width="1" height="10" fill="#000"/>
<path d="M1153.0,100h5v8h-5z M1154.0,101v6h3v-6z" fill="#000" fill-rule="evenodd"/>
<rect x="1154.0" y="101" width="3" height="6" fill="#1e223c" fill-opacity="0.24"/>
<rect x="1162.0" y="90" width="1" height="10" fill="#000"/>
<rect x="1162.0" y="102" width="1" height="3" fill="#000"/>
<rect x="1160.0" y="100" width="5" height="2" fill="#000"/>
<rect x="1169.0" y="98" width="1" height="4" fill="#000"/>
<rect x="1169.0" y="116" width="1" height="2" fill="#000"/>
<path d="M1167.0,102h5v14h-5z M1168.0,103v12h3v-12z" fill="#000" fill-rule="evenodd"/>
<rect x="1168.0" y="103" width="3" height="12" fill="#000" fill-opacity="0.69"/>
<rect x="1176.0" y="113" width="1" height="3" fill="#000"/>
<rect x="1176.0" y="120" width="1" height="1" fill="#000"/>
<path d="M1174.0,116h5v4h-5z M1175.0,117v2h3v-2z" fill="#000" fill-rule="evenodd"/>
<rect x="1175.0" y="117" width="3" height="2" fill="#000" fill-opacity="0.69"/>
<rect x="1184.0" y="112" width="1" height="7" fill="#000"/>
<rect x="1184.0" y="120" width="1" height="3" fill="#000"/>
<rect x="1182.0" y="119" width="5" height="1" fill="#000"/>
<rect x="1191.0" y="119" width="1" height="1" fill="#000"/>
<rect x="1191.0" y="140" width="1" height="29" fill="#000"/>
<path d="M1189.0,120h5v20h-5z M1190.0,121v18h3v-18z" fill="#000" fill-rule="evenodd"/>
<rect x="1190.0" y="121" width="3" height="18" fill="#000" fill-opacity="0.69"/>
<rect x="1198.0" y="133" width="1" height="7" fill="#000"/>
<rect x="1198.0" y="147" width="1" height="3" fill="#000"/>
<path d="M1196.0,140h5v7h-5z M1197.0,141v5h3v-5z" fill="#000" fill-rule="evenodd"/>
<rect x="1197.0" y="141" width="3" height="5" fill="#000" fill-opacity="0.69"/>
<rect x="1205.0" y="115" width="1" height="13" fill="#000"/>
<rect x="1205.0" y="147" width="1" height="5" fill="#000"/>
<path d="M1203.0,128h5v19h-5z M1204.0,129v17h3v-17z" fill="#000" fill-rule="evenodd"/>
<rect x="1204.0" y="129" width="3" height="17" fill="#1e223c" fill-opacity="0.24"/>
<rect x="1212.0" y="124" width="1" height="4" fill="#000"/>
<rect x="1212.0" y="160" width="1" height="3" fill="#000"/>
<path d="M1210.0,128h5v32h-5z M1211.0,129v30h3v-30z" fill="#000" fill-rule="evenodd"/>
<rect x="1211.0" y="129" width="3" height="30" fill="#000" fill-opacity="0.69"/>
<rect x="1219.0" y="148" width="1" height="6" fill="#000"/>
<rect x="1219.0" y="160" width="1" height="7" fill="#000"/>
<path d="M1217.0,154h5v6h-5z M1218.0,155v4h3v-4z" fill="#000" fill-rule="evenodd"/>
<rect x="1218.0" y="155" width="3" height="4" fill="#1e223c" fill-opacity="0.24"/>
<rect x="1226.0" y="145" width="1" height="4" fill="#000"/>
<rect x="1226.0" y="154" width="1" height="2" fill="#000"/>
<path d="M1224.0,149h5v5h-5z M1225.0,150v3h3v-3z" fill="#000" fill-rule="evenodd"/>
<rect x="1225.0" y="150" width="3" height="3" fill="#1e223c" fill-opacity="0.24"/>
<rect x="1234.0" y="149" width="1" height="7" fill="#000"/>
<path d="M1232.0,138h5v11h-5z M1233.0,139v9h3v-9z" fill="#000" fill-rule="evenodd"/>
<rect x="1233.0" y="139" width="3" height="9" fill="#1e223c" fill-opacity="0.24"/>
<rect x="1241.0" y="127" width="1" height="9" fill="#000"/>
<rect x="1241.0" y="139" width="1" height="3" fill="#000"/>
<path d="M1239.0,136h5v3h-5z M1240.0,137v1h3v-1z" fill="#000" fill-rule="evenodd"/>
<rect x="1240.0" y="137" width="3" height="1" fill="#1e223c" fill-opacity="0.24"/>
<rect x="1248.0" y="131" width="1" height="5" fill="#000"/>
<rect x="1248.0" y="142" width="1" height="5" fill="#000"/>
<path d="M1246.0,136h5v6h-5z M1247.0,137v4h3v-4z" fill="#000" fill-rule="evenodd"/>
<rect x="1247.0" y="137" width="3" height="4" fill="#000" fill-opacity="0.69"/>
<rect x="1255.0" y="121" width="1" height="3" fill="#000"/>
<rect x="1255.0" y="142" width="1" height="5" fill="#000"/>
<path d="M1253.0,124h5v18h-5z M1254.0,125v16h3v-16z" fill="#000" fill-rule="evenodd"/>
<rect x="1254.0" y="125" width="3" height="16" fill="#1e223c" fill-opacity="0.24"/>
<rect x="1262.0" y="97" width="1" height="11" fill="#000"/>
<rect x="1262.0" y="124" width="1" height="1" fill="#000"/>
<path d="M1260.0,108h5v16h-5z M1261.0,109v14h3v-14z" fill="#000" fill-rule="evenodd"/>
<rect x="1261.0" y="109" width="3" height="14" fill="#1e223c" fill-opacity="0.24"/>
<rect x="1269.0" y="98" width="1" height="10" fill="#000"/>
<rect x="1269.0" y="109" width="1" height="5" fill="#000"/>
<rect x="1267.0" y="108" width="5" height="1" fill="#000"/>
<rect x="1276.0" y="105" width="1" height="3" fill="#000"/>
<rect x="1276.0" y="120" width="1" height="5" fill="#000"/>
<path d="M1274.0,108h5v12h-5z M1275.0,109v10h3v-10z" fill="#000" fill-rule="evenodd"/>
<rect x="1275.0" y="109" width="3" height="10" fill="#000" fill-opacity="0.69"/>
<rect x="1284.0" y="102" width="1" height="18" fill="#000"/>
<rect x="1284.0" y="121" width="1" height="3" fill="#000"/>
<rect x="1282.0" y="120" width="5" height="1" fill="#000"/>
<rect x="1291.0" y="106" width="1" height="11" fill="#000"/>
<rect x="1291.0" y="120" width="1" height="3" fill="#000"/>
<path d="M1289.0,117h5v3h-5z M1290.0,118v1h3v-1z" fill="#000" fill-rule="evenodd"/>
<rect x="1290.0" y="118" width="3" height="1" fill="#1e223c" fill-opacity="0.24"/>
<rect x="1298.0" y="114" width="1" height="3" fill="#000"/>
<path d="M1296.0,117h5v25h-5z M1297.0,118v23h3v-23z" fill="#000" fill-rule="evenodd"/>
<rect x="1297.0" y="118" width="3" height="23" fill="#000" fill-opacity="0.69"/>
<rect x="1305.0" y="128" width="1" height="8" fill="#000"/>
<rect x="1305.0" y="142" width="1" height="2" fill="#000"/>
<path d="M1303.0,136h5v6h-5z M1304.0,137v4h3v-4z" fill="#000" fill-rule="evenodd"/>
<rect x="1304.0" y="137" width="3" height="4" fill="#1e223c" fill-opacity="0.24"/>
<rect x="1312.0" y="150" width="1" height="5" fill="#000"/>
<path d="M1310.0,136h5v14h-5z M1311.0,137v12h3v-12z" fill="#000" fill-rule="evenodd"/>
<rect x="1311.0" y="137" width="3" height="12" fill="#000" fill-opacity="0.69"/>
<rect x="1319.0" y="143" width="1" height="6" fill="#000"/>
<rect x="1319.0" y="224" width="1" height="106" fill="#000"/>
<path d="M1317.0,149h5v75h-5z M1318.0,150v73h3v-73z" fill="#000" fill-rule="evenodd"/>
<rect x="1318.0" y="150" width="3" height="73" fill="#000" fill-opacity="0.69"/>
<rect x="1326.0" y="201" width="1" height="22" fill="#000"/>
<rect x="1326.0" y="224" width="1" height="13" fill="#000"/>
<rect x="1324.0" y="223" width="5" height="1" fill="#000"/>
<rect x="1333.0" y="187" width="1" height="11" fill="#000"/>
<rect x="1333.0" y="223" width="1" height="12" fill="#000"/>
<path d="M1331.0,198h5v25h-5z M1332.0,199v23h3v-23z" fill="#000" fill-rule="evenodd"/>
<rect x="1332.0" y="199" width="3" height="23" fill="#1e223c" fill-opacity="0.24"/>
<rect x="1341.0" y="177" width="1" height="7" fill="#000"/>
<rect x="1341.0" y="198" width="1" height="2" fill="#000"/>
<path d="M1339.0,184h5v14h-5z M1340.0,185v12h3v-12z" fill="#000" fill-rule="evenodd"/>
<rect x="1340.0" y="185" width="3" height="12" fill="#1e223c" fill-opacity="0.24"/>
<rect x="1348.0" y="181" width="1" height="3" fill="#000"/>
<rect x="1348.0" y="202" width="1" height="20" fill="#000"/>
<path d="M1346.0,184h5v18h-5z M1347.0,185v16h3v-16z" fill="#000" fill-rule="evenodd"/>
<rect x="1347.0" y="185" width="3" height="16" fill="#000" fill-opacity="0.69"/>
<rect x="1355.0" y="194" width="1" height="8" fill="#000"/>
<rect x="1355.0" y="218" width="1" height="6" fill="#000"/>
<path d="M1353.0,202h5v16h-5z M1354.0,203v14h3v-14z" fill="#000" fill-rule="evenodd"/>
<rect x="1354.0" y="203" width="3" height="14" fill="#000" fill-opacity="0.69"/>
<rect x="1362.0" y="208" width="1" height="10" fill="#000"/>
<rect x="1362.0" y="234" width="1" height="11" fill="#000"/>
<path d="M1360.0,218h5v16h-5z M1361.0,219v14h3v-14z" fill="#000" fill-rule="evenodd"/>
<rect x="1361.0" y="219" width="3" height="14" fill="#000" fill-opacity="0.69"/>
<rect x="1369.0" y="220" width="1" height="14" fill="#000"/>
<rect x="1369.0" y="240" width="1" height="17" fill="#000"/>
<path d="M1367.0,234h5v6h-5z M1368.0,235v4h3v-4z" fill="#000" fill-rule="evenodd"/>
<rect x="1368.0" y="235" width="3" height="4" fill="#000" fill-opacity="0.69"/>
<rect x="1376.0" y="221" width="1" height="6" fill="#000"/>
<path d="M1374.0,227h5v13h-5z M1375.0,228v11h3v-11z" fill="#000" fill-rule="evenodd"/>
<rect x="1375.0" y="228" width="3" height="11" fill="#1e223c" fill-opacity="0.24"/>
<rect x="1383.0" y="216" width="1" height="6" fill="#000"/>
<rect x="1383.0" y="228" width="1" height="6" fill="#000"/>
<path d="M1381.0,222h5v6h-5z M1382.0,223v4h3v-4z" fill="#000" fill-rule="evenodd"/>
<rect x="1382.0" y="223" width="3" height="4" fill="#1e223c" fill-opacity="0.24"/>
<rect x="1391.0" y="193" width="1" height="10" fill="#000"/>
<rect x="1391.0" y="222" width="1" height="6" fill="#000"/>
<path d="M1389.0,203h5v19h-5z M1390.0,204v17h3v-17z" fill="#000" fill-rule="evenodd"/>
<rect x="1390.0" y="204" width="3" height="17" fill="#1e223c" fill-opacity="0.24"/>
<rect x="1398.0" y="197" width="1" height="6" fill="#000"/>
<rect x="1398.0" y="216" width="1" height="4" fill="#000"/>
<path d="M1396.0,203h5v13h-5z M1397.0,204v11h3v-11z" fill="#000" fill-rule="evenodd"/>
<rect x="1397.0" y="204" width="3" height="11" fill="#000" fill-opacity="0.69"/>
<rect x="1405.0" y="213" width="1" height="3" fill="#000"/>
<rect x="1405.0" y="227" width="1" height="6" fill="#000"/>
<path d="M1403.0,216h5v11h-5z M1404.0,217v9h3v-9z" fill="#000" fill-rule="evenodd"/>
<rect x="1404.0" y="217" width="3" height="9" fill="#000" fill-opacity="0.69"/>
<rect x="1412.0" y="215" width="1" height="6" fill="#000"/>
<path d="M1410.0,221h5v6h-5z M1411.0,222v4h3v-4z" fill="#000" fill-rule="evenodd"/>
<rect x="1411.0" y="222" width="3" height="4" fill="#1e223c" fill-opacity="0.24"/>
<rect x="1419.0" y="200" width="1" height="1" fill="#000"/>
<path d="M1417.0,201h5v21h-5z M1418.0,202v19h3v-19z" fill="#000" fill-rule="evenodd"/>
<rect x="1418.0" y="202" width="3" height="19" fill="#1e223c" fill-opacity="0.24"/>
<rect x="1426.0" y="181" width="1" height="5" fill="#000"/>
<rect x="1426.0" y="201" width="1" height="1" fill="#000"/>
<path d="M1424.0,186h5v15h-5z M1425.0,187v13h3v-13z" fill="#000" fill-rule="evenodd"/>
<rect x="1425.0" y="187" width="3" height="13" fill="#1e223c" fill-opacity="0.24"/>
<rect x="1433.0" y="174" width="1" height="3" fill="#000"/>
<rect x="1433.0" y="186" width="1" height="1" fill="#000"/>
<path d="M1431.0,177h5v9h-5z M1432.0,178v7h3v-7z" fill="#000" fill-rule="evenodd"/>
<rect x="1432.0" y="178" width="3" height="7" fill="#1e223c" fill-opacity="0.24"/>
<rect x="1441.0" y="168" width="1" height="9" fill="#000"/>
<rect x="1441.0" y="179" width="1" height="6" fill="#000"/>
<rect x="1439.0" y="177" width="5" height="2" fill="#000"/>
<rect x="1448.0" y="169" width="1" height="10" fill="#000"/>
<rect x="1448.0" y="184" width="1" height="7" fill="#000"/>
<path d="M1446.0,179h5v5h-5z M1447.0,180v3h3v-3z" fill="#000" fill-rule="evenodd"/>
<rect x="1447.0" y="180" width="3" height="3" fill="#000" fill-opacity="0.69"/>
<rect x="1455.0" y="174" width="1" height="10" fill="#000"/>
<rect x="1455.0" y="194" width="1" height="2" fill="#000"/>
<path d="M1453.0,184h5v10h-5z M1454.0,185v8h3v-8z" fill="#000" fill-rule="evenodd"/>
<rect x="1454.0" y="185" width="3" height="8" fill="#000" fill-opacity="0.69"/>
<rect x="1462.0" y="186" width="1" height="8" fill="#000"/>
<rect x="1462.0" y="213" width="1" height="11" fill="#000"/>
<path d="M1460.0,194h5v19h-5z M1461.0,195v17h3v-17z" fill="#000" fill-rule="evenodd"/>
<rect x="1461.0" y="195" width="3" height="17" fill="#000" fill-opacity="0.69"/>
<rect x="1469.0" y="190" width="1" height="11" fill="#000"/>
<rect x="1469.0" y="213" width="1" height="1" fill="#000"/>
<path d="M1467.0,201h5v12h-5z M1468.0,202v10h3v-10z" fill="#000" fill-rule="evenodd"/>
<rect x="1468.0" y="202" width="3" height="10" fill="#1e223c" fill-opacity="0.24"/>
<rect x="1476.0" y="199" width="1" height="3" fill="#000"/>
<rect x="1476.0" y="202" width="1" height="5" fill="#000"/>
<rect x="1474.0" y="202" width="5" height="1" fill="#000"/>
<rect x="1483.0" y="193" width="1" height="5" fill="#000"/>
<rect x="1483.0" y="202" width="1" height="3" fill="#000"/>
<path d="M1481.0,198h5v4h-5z M1482.0,199v2h3v-2z" fill="#000" fill-rule="evenodd"/>
<rect x="1482.0" y="199" width="3" height="2" fill="#1e223c" fill-opacity="0.24"/>
<rect x="1491.0" y="197" width="1" height="1" fill="#000"/>
<rect x="1491.0" y="236" width="1" height="8" fill="#000"/>
<path d="M1489.0,198h5v38h-5z M1490.0,199v36h3v-36z" fill="#000" fill-rule="evenodd"/>
<rect x="1490.0" y="199" width="3" height="36" fill="#000" fill-opacity="0.69"/>
<rect x="1498.0" y="226" width="1" height="10" fill="#000"/>
<rect x="1498.0" y="254" width="1" height="25" fill="#000"/>
<path d="M1496.0,236h5v18h-5z M1497.0,237v16h3v-16z" fill="#000" fill-rule="evenodd"/>
<rect x="1497.0" y="237" width="3" height="16" fill="#000" fill-opacity="0.69"/>
<rect x="1505.0" y="224" width="1" height="7" fill="#000"/>
<rect x="1505.0" y="254" width="1" height="18" fill="#000"/>
<path d="M1503.0,231h5v23h-5z M1504.0,232v21h3v-21z" fill="#000" fill-rule="evenodd"/>
<rect x="1504.0" y="232" width="3" height="21" fill="#1e223c" fill-opacity="0.24"/>
<rect x="1512.0" y="217" width="1" height="14" fill="#000"/>
<rect x="1512.0" y="253" width="1" height="6" fill="#000"/>
<path d="M1510.0,231h5v22h-5z M1511.0,232v20h3v-20z" fill="#000" fill-rule="evenodd"/>
<rect x="1511.0" y="232" width="3" height="20" fill="#000" fill-opacity="0.69"/>
<rect x="1519.0" y="225" width="1" height="10" fill="#000"/>
<rect x="1519.0" y="253" width="1" height="12" fill="#000"/>
<path d="M1517.0,235h5v18h-5z M1518.0,236v16h3v-16z" fill="#000" fill-rule="evenodd"/>
<rect x="1518.0" y="236" width="3" height="16" fill="#1e223c" fill-opacity="0.24"/>
<rect x="1526.0" y="231" width="1" height="4" fill="#000"/>
<rect x="1526.0" y="240" width="1" height="8" fill="#000"/>
<path d="M1524.0,235h5v5h-5z M1525.0,236v3h3v-3z" fill="#000" fill-rule="evenodd"/>
<rect x="1525.0" y="236" width="3" height="3" fill="#000" fill-opacity="0.69"/>
<rect x="1533.0" y="221" width="1" height="5" fill="#000"/>
<rect x="1533.0" y="240" width="1" height="8" fill="#000"/>
<path d="M1531.0,226h5v14h-5z M1532.0,227v12h3v-12z" fill="#000" fill-rule="evenodd"/>
<rect x="1532.0" y="227" width="3" height="12" fill="#1e223c" fill-opacity="0.24"/>
<rect x="1541.0" y="188" width="1" height="10" fill="#000"/>
<rect x="1541.0" y="226" width="1" height="4" fill="#000"/>
<path d="M1539.0,198h5v28h-5z M1540.0,199v26h3v-26z" fill="#000" fill-rule="evenodd"/>
<rect x="1540.0" y="199" width="3" height="26" fill="#1e223c" fill-opacity="0.24"/>
<rect x="1548.0" y="190" width="1" height="8" fill="#000"/>
<rect x="1548.0" y="222" width="1" height="1" fill="#000"/>
<path d="M1546.0,198h5v24h-5z M1547.0,199v22h3v-22z" fill="#000" fill-rule="evenodd"/>
<rect x="1547.0" y="199" width="3" height="22" fill="#000" fill-opacity="0.69"/>
<rect x="1555.0" y="211" width="1" height="11" fill="#000"/>
<rect x="1555.0" y="223" width="1" height="12" fill="#000"/>
<rect x="1553.0" y="222" width="5" height="1" fill="#000"/>
<rect x="1562.0" y="198" width="1" height="24" fill="#000"/>
<rect x="1562.0" y="234" width="1" height="8" fill="#000"/>
<path d="M1560.0,222h5v12h-5z M1561.0,223v10h3v-10z" fill="#000" fill-rule="evenodd"/>
<rect x="1561.0" y="223" width="3" height="10" fill="#000" fill-opacity="0.69"/>
<rect x="1569.0" y="231" width="1" height="3" fill="#000"/>
<rect x="1569.0" y="249" width="1" height="2" fill="#000"/>
<path d="M1567.0,234h5v15h-5z M1568.0,235v13h3v-13z" fill="#000" fill-rule="evenodd"/>
<rect x="1568.0" y="235" width="3" height="13" fill="#000" fill-opacity="0.69"/>
<rect x="1576.0" y="237" width="1" height="11" fill="#000"/>
<rect x="1576.0" y="250" width="1" height="3" fill="#000"/>
<rect x="1574.0" y="248" width="5" height="2" fill="#000"/>
<rect x="1583.0" y="241" width="1" height="8" fill="#000"/>
<rect x="1583.0" y="253" width="1" height="10" fill="#000"/>
<path d="M1581.0,249h5v4h-5z M1582.0,250v2h3v-2z" fill="#000" fill-rule="evenodd"/>
<rect x="1582.0" y="250" width="3" height="2" fill="#000" fill-opacity="0.69"/>
<rect x="1591.0" y="237" width="1" height="16" fill="#000"/>
<rect x="1591.0" y="262" width="1" height="9" fill="#000"/>
<path d="M1589.0,253h5v9h-5z M1590.0,254v7h3v-7z" fill="#000" fill-rule="evenodd"/>
<rect x="1590.0" y="254" width="3" height="7" fill="#000" fill-opacity="0.69"/>
<rect x="1598.0" y="248" width="1" height="4" fill="#000"/>
<rect x="1598.0" y="262" width="1" height="10" fill="#000"/>
<path d="M1596.0,252h5v10h-5z M1597.0,253v8h3v-8z" fill="#000" fill-rule="evenodd"/>
<rect x="1597.0" y="253" width="3" height="8" fill="#1e223c" fill-opacity="0.24"/>
<rect x="1605.0" y="271" width="1" height="15" fill="#000"/>
<path d="M1603.0,252h5v19h-5z M1604.0,253v17h3v-17z" fill="#000" fill-rule="evenodd"/>
<rect x="1604.0" y="253" width="3" height="17" fill="#000" fill-opacity="0.69"/>
<rect x="1612.0" y="264" width="1" height="7" fill="#000"/>
<rect x="1612.0" y="292" width="1" height="3" fill="#000"/>
<path d="M1610.0,271h5v21h-5z M1611.0,272v19h3v-19z" fill="#000" fill-rule="evenodd"/>
<rect x="1611.0" y="272" width="3" height="19" fill="#000" fill-opacity="0.69"/>
<rect x="1619.0" y="285" width="1" height="6" fill="#000"/>
<rect x="1619.0" y="297" width="1" height="2" fill="#000"/>
<path d="M1617.0,291h5v6h-5z M1618.0,292v4h3v-4z" fill="#000" fill-rule="evenodd"/>
<rect x="1618.0" y="292" width="3" height="4" fill="#000" fill-opacity="0.69"/>
</g>
<g shape-rendering="crispEdges">
<rect x="15" y="442" width="1763" height="1" fill="#2a2e39"/>
<rect x="15" y="644" width="1763" height="1" fill="#5d606b"/>
<rect x="1694" y="41" width="1" height="616" fill="#787b86"/>
</g>
<g shape-rendering="crispEdges">
<rect x="17" y="575" width="6" height="3" fill="#ffcdd2"/>
<rect x="24" y="573" width="6" height="3" fill="#26a69a"/>
<rect x="31" y="570" width="6" height="6" fill="#26a69a"/>
<rect x="38" y="568" width="6" height="8" fill="#26a69a"/>
<rect x="45" y="568" width="6" height="8" fill="#26a69a"/>
<rect x="52" y="568" width="6" height="8" fill="#b2dfdb"/>
<rect x="59" y="569" width="7" height="7" fill="#b2dfdb"/>
<rect x="67" y="570" width="6" height="6" fill="#b2dfdb"/>
<rect x="74" y="570" width="6" height="6" fill="#26a69a"/>
<rect x="81" y="570" width="6" height="6" fill="#b2dfdb"/>
<rect x="88" y="570" width="6" height="6" fill="#b2dfdb"/>
<rect x="95" y="567" width="6" height="9" fill="#26a69a"/>
<rect x="102" y="566" width="6" height="10" fill="#26a69a"/>
<rect x="109" y="566" width="7" height="10" fill="#26a69a"/>
<rect x="117" y="567" width="6" height="9" fill="#b2dfdb"/>
<rect x="124" y="567" width="6" height="9" fill="#b2dfdb"/>
<rect x="131" y="567" width="6" height="9" fill="#26a69a"/>
<rect x="138" y="566" width="6" height="10" fill="#26a69a"/>
<rect x="145" y="568" width="6" height="8" fill="#b2dfdb"/>
<rect x="152" y="569" width="6" height="7" fill="#b2dfdb"/>
<rect x="159" y="571" width="6" height="5" fill="#b2dfdb"/>
<rect x="166" y="572" width="7" height="4" fill="#b2dfdb"/>
<rect x="174" y="573" width="6" height="3" fill="#b2dfdb"/>
<rect x="181" y="575" width="6" height="1" fill="#b2dfdb"/>
<rect x="188" y="575" width="6" height="3" fill="#ff5252"/>
<rect x="195" y="575" width="6" height="3" fill="#ff5252"/>
<rect x="202" y="575" width="6" height="4" fill="#ff5252"/>
<rect x="209" y="574" width="6" height="2" fill="#26a69a"/>
<rect x="216" y="572" width="7" height="4" fill="#26a69a"/>
<rect x="224" y="567" width="6" height="9" fill="#26a69a"/>
<rect x="231" y="568" width="6" height="8" fill="#b2dfdb"/>
<rect x="238" y="564" width="6" height="12" fill="#26a69a"/>
<rect x="245" y="562" width="6" height="14" fill="#26a69a"/>
<rect x="252" y="562" width="6" height="14" fill="#b2dfdb"/>
<rect x="259" y="567" width="6" height="9" fill="#b2dfdb"/>
<rect x="266" y="570" width="7" height="6" fill="#b2dfdb"/>
<rect x="274" y="574" width="6" height="2" fill="#b2dfdb"/>
<rect x="281" y="574" width="6" height="2" fill="#b2dfdb"/>
<rect x="288" y="575" width="6" height="2" fill="#ff5252"/>
<rect x="295" y="575" width="6" height="4" fill="#ff5252"/>
<rect x="302" y="575" width="6" height="4" fill="#ff5252"/>
<rect x="309" y="575" width="6" height="4" fill="#ffcdd2"/>
<rect x="316" y="575" width="7" height="6" fill="#ff5252"/>
<rect x="324" y="575" width="6" height="7" fill="#ff5252"/>
<rect x="331" y="575" width="6" height="7" fill="#ff5252"/>
<rect x="338" y="575" width="6" height="8" fill="#ff5252"/>
<rect x="345" y="575" width="6" height="8" fill="#ff5252"/>
<rect x="352" y="575" width="6" height="9" fill="#ff5252"/>
<rect x="359" y="575" width="6" height="9" fill="#ff5252"/>
<rect x="366" y="575" width="7" height="12" fill="#ff5252"/>
<rect x="374" y="575" width="6" height="12" fill="#ff5252"/>
<rect x="381" y="575" width="6" height="12" fill="#ffcdd2"/>
<rect x="388" y="575" width="6" height="10" fill="#ffcdd2"/>
<rect x="395" y="575" width="6" height="8" fill="#ffcdd2"/>
<rect x="402" y="575" width="6" height="7" fill="#ffcdd2"/>
<rect x="409" y="575" width="6" height="9" fill="#ff5252"/>
<rect x="416" y="575" width="7" height="7" fill="#ffcdd2"/>
<rect x="424" y="575" width="6" height="6" fill="#ffcdd2"/>
<rect x="431" y="575" width="6" height="3" fill="#ffcdd2"/>
<rect x="438" y="574" width="6" height="2" fill="#26a69a"/>
<rect x="445" y="572" width="6" height="4" fill="#26a69a"/>
<rect x="452" y="572" width="6" height="4" fill="#26a69a"/>
<rect x="459" y="574" width="6" height="2" fill="#b2dfdb"/>
<rect x="466" y="575" width="7" height="2" fill="#ff5252"/>
<rect x="474" y="575" width="6" height="3" fill="#ff5252"/>
<rect x="481" y="575" width="6" height="3" fill="#ff5252"/>
<rect x="488" y="575" width="6" height="2" fill="#ffcdd2"/>
<rect x="495" y="575" width="6" height="2" fill="#ff5252"/>
<rect x="502" y="575" width="6" height="2" fill="#ff5252"/>
<rect x="509" y="575" width="6" height="2" fill="#ff5252"/>
<rect x="516" y="575" width="7" height="3" fill="#ff5252"/>
<rect x="524" y="575" width="6" height="5" fill="#ff5252"/>
<rect x="531" y="575" width="6" height="6" fill="#ff5252"/>
<rect x="538" y="575" width="6" height="4" fill="#ffcdd2"/>
<rect x="545" y="575" width="6" height="2" fill="#ffcdd2"/>
<rect x="552" y="574" width="6" height="2" fill="#26a69a"/>
<rect x="559" y="575" width="6" height="1" fill="#b2dfdb"/>
<rect x="566" y="575" width="6" height="1" fill="#26a69a"/>
<rect x="573" y="573" width="7" height="3" fill="#26a69a"/>
<rect x="581" y="572" width="6" height="4" fill="#26a69a"/>
<rect x="588" y="571" width="6" height="5" fill="#26a69a"/>
<rect x="595" y="572" width="6" height="4" fill="#b2dfdb"/>
<rect x="602" y="571" width="6" height="5" fill="#26a69a"/>
<rect x="609" y="570" width="6" height="6" fill="#26a69a"/>
<rect x="616" y="571" width="6" height="5" fill="#b2dfdb"/>
<rect x="623" y="571" width="7" height="5" fill="#b2dfdb"/>
<rect x="631" y="571" width="6" height="5" fill="#26a69a"/>
<rect x="638" y="570" width="6" height="6" fill="#26a69a"/>
<rect x="645" y="570" width="6" height="6" fill="#26a69a"/>
<rect x="652" y="568" width="6" height="8" fill="#26a69a"/>
<rect x="659" y="564" width="6" height="12" fill="#26a69a"/>
<rect x="666" y="558" width="6" height="18" fill="#26a69a"/>
<rect x="673" y="556" width="7" height="20" fill="#26a69a"/>
<rect x="681" y="553" width="6" height="23" fill="#26a69a"/>
<rect x="688" y="550" width="6" height="26" fill="#26a69a"/>
<rect x="695" y="551" width="6" height="25" fill="#b2dfdb"/>
<rect x="702" y="550" width="6" height="26" fill="#26a69a"/>
<rect x="709" y="542" width="6" height="34" fill="#26a69a"/>
<rect x="716" y="541" width="6" height="35" fill="#26a69a"/>
<rect x="723" y="542" width="7" height="34" fill="#b2dfdb"/>
<rect x="731" y="544" width="6" height="32" fill="#b2dfdb"/>
<rect x="738" y="546" width="6" height="30" fill="#b2dfdb"/>
<rect x="745" y="550" width="6" height="26" fill="#b2dfdb"/>
<rect x="752" y="562" width="6" height="14" fill="#b2dfdb"/>
<rect x="759" y="572" width="6" height="4" fill="#b2dfdb"/>
<rect x="766" y="575" width="6" height="5" fill="#ff5252"/>
<rect x="773" y="575" width="7" height="10" fill="#ff5252"/>
<rect x="781" y="575" width="6" height="11" fill="#ff5252"/>
<rect x="788" y="575" width="6" height="15" fill="#ff5252"/>
<rect x="795" y="575" width="6" height="18" fill="#ff5252"/>
<rect x="802" y="575" width="6" height="20" fill="#ff5252"/>
<rect x="809" y="575" width="6" height="22" fill="#ff5252"/>
<rect x="816" y="575" width="6" height="25" fill="#ff5252"/>
<rect x="823" y="575" width="7" height="30" fill="#ff5252"/>
<rect x="831" y="575" width="6" height="28" fill="#ffcdd2"/>
<rect x="838" y="575" width="6" height="23" fill="#ffcdd2"/>
<rect x="845" y="575" width="6" height="22" fill="#ffcdd2"/>
<rect x="852" y="575" width="6" height="20" fill="#ffcdd2"/>
<rect x="859" y="575" width="6" height="11" fill="#ffcdd2"/>
<rect x="866" y="575" width="6" height="6" fill="#ffcdd2"/>
<rect x="873" y="575" width="7" height="4" fill="#ffcdd2"/>
<rect x="881" y="575" width="6" height="4" fill="#ffcdd2"/>
<rect x="888" y="575" width="6" height="5" fill="#ff5252"/>
<rect x="895" y="575" width="6" height="3" fill="#ffcdd2"/>
<rect x="902" y="575" width="6" height="2" fill="#ffcdd2"/>
<rect x="909" y="575" width="6" height="5" fill="#ff5252"/>
<rect x="916" y="575" width="6" height="7" fill="#ff5252"/>
<rect x="923" y="575" width="7" height="8" fill="#ff5252"/>
<rect x="931" y="575" width="6" height="9" fill="#ff5252"/>
<rect x="938" y="575" width="6" height="10" fill="#ff5252"/>
<rect x="945" y="575" width="6" height="14" fill="#ff5252"/>
<rect x="952" y="575" width="6" height="15" fill="#ff5252"/>
<rect x="959" y="575" width="6" height="17" fill="#ff5252"/>
<rect x="966" y="575" width="6" height="12" fill="#ffcdd2"/>
<rect x="973" y="575" width="6" height="10" fill="#ffcdd2"/>
<rect x="980" y="575" width="7" height="8" fill="#ffcdd2"/>
<rect x="988" y="575" width="6" height="10" fill="#ff5252"/>
<rect x="995" y="575" width="6" height="7" fill="#ffcdd2"/>
<rect x="1002" y="575" width="6" height="7" fill="#ffcdd2"/>
<rect x="1009" y="575" width="6" height="5" fill="#ffcdd2"/>
<rect x="1016" y="575" width="6" height="9" fill="#ff5252"/>
<rect x="1023" y="575" width="6" height="10" fill="#ff5252"/>
<rect x="1030" y="575" width="7" height="11" fill="#ff5252"/>
<rect x="1038" y="575" width="6" height="11" fill="#ff5252"/>
<rect x="1045" y="575" width="6" height="9" fill="#ffcdd2"/>
<rect x="1052" y="575" width="6" height="7" fill="#ffcdd2"/>
<rect x="1059" y="575" width="6" height="7" fill="#ffcdd2"/>
<rect x="1066" y="575" width="6" height="5" fill="#ffcdd2"/>
<rect x="1073" y="575" width="6" height="4" fill="#ffcdd2"/>
<rect x="1080" y="575" width="7" height="2" fill="#ffcdd2"/>
<rect x="1088" y="573" width="6" height="3" fill="#26a69a"/>
<rect x="1095" y="571" width="6" height="5" fill="#26a69a"/>
<rect x="1102" y="569" width="6" height="7" fill="#26a69a"/>
<rect x="1109" y="567" width="6" height="9" fill="#26a69a"/>
<rect x="1116" y="564" width="6" height="12" fill="#26a69a"/>
<rect x="1123" y="563" width="6" height="13" fill="#26a69a"/>
<rect x="1130" y="565" width="7" height="11" fill="#b2dfdb"/>
<rect x="1138" y="567" width="6" height="9" fill="#b2dfdb"/>
<rect x="1145" y="568" width="6" height="8" fill="#b2dfdb"/>
<rect x="1152" y="568" width="6" height="8" fill="#b2dfdb"/>
<rect x="1159" y="569" width="6" height="7" fill="#b2dfdb"/>
<rect x="1166" y="571" width="6" height="5" fill="#b2dfdb"/>
<rect x="1173" y="573" width="6" height="3" fill="#b2dfdb"/>
<rect x="1180" y="575" width="7" height="1" fill="#b2dfdb"/>
<rect x="1188" y="575" width="6" height="5" fill="#ff5252"/>
<rect x="1195" y="575" width="6" height="7" fill="#ff5252"/>
<rect x="1202" y="575" width="6" height="7" fill="#ffcdd2"/>
<rect x="1209" y="575" width="6" height="10" fill="#ff5252"/>
<rect x="1216" y="575" width="6" height="10" fill="#ff5252"/>
<rect x="1223" y="575" width="6" height="10" fill="#ffcdd2"/>
<rect x="1230" y="575" width="7" height="6" fill="#ffcdd2"/>
<rect x="1238" y="575" width="6" height="6" fill="#ffcdd2"/>
<rect x="1245" y="575" width="6" height="5" fill="#ffcdd2"/>
<rect x="1252" y="575" width="6" height="2" fill="#ffcdd2"/>
<rect x="1259" y="572" width="6" height="4" fill="#26a69a"/>
<rect x="1266" y="570" width="6" height="6" fill="#26a69a"/>
<rect x="1273" y="570" width="6" height="6" fill="#b2dfdb"/>
<rect x="1280" y="571" width="7" height="5" fill="#b2dfdb"/>
<rect x="1288" y="572" width="6" height="4" fill="#b2dfdb"/>
<rect x="1295" y="574" width="6" height="2" fill="#b2dfdb"/>
<rect x="1302" y="575" width="6" height="1" fill="#b2dfdb"/>
<rect x="1309" y="575" width="6" height="4" fill="#ff5252"/>
<rect x="1316" y="575" width="6" height="14" fill="#ff5252"/>
<rect x="1323" y="575" width="6" height="20" fill="#ff5252"/>
<rect x="1330" y="575" width="6" height="19" fill="#ffcdd2"/>
<rect x="1337" y="575" width="7" height="16" fill="#ffcdd2"/>
<rect x="1345" y="575" width="6" height="16" fill="#ffcdd2"/>
<rect x="1352" y="575" width="6" height="16" fill="#ff5252"/>
<rect x="1359" y="575" width="6" height="17" fill="#ff5252"/>
<rect x="1366" y="575" width="6" height="18" fill="#ff5252"/>
<rect x="1373" y="575" width="6" height="15" fill="#ffcdd2"/>
<rect x="1380" y="575" width="6" height="12" fill="#ffcdd2"/>
<rect x="1387" y="575" width="7" height="7" fill="#ffcdd2"/>
<rect x="1395" y="575" width="6" height="5" fill="#ffcdd2"/>
<rect x="1402" y="575" width="6" height="4" fill="#ffcdd2"/>
<rect x="1409" y="575" width="6" height="2" fill="#ffcdd2"/>
<rect x="1416" y="572" width="6" height="4" fill="#26a69a"/>
<rect x="1423" y="568" width="6" height="8" fill="#26a69a"/>
<rect x="1430" y="564" width="6" height="12" fill="#26a69a"/>
<rect x="1437" y="562" width="7" height="14" fill="#26a69a"/>
<rect x="1445" y="562" width="6" height="14" fill="#26a69a"/>
<rect x="1452" y="563" width="6" height="13" fill="#b2dfdb"/>
<rect x="1459" y="567" width="6" height="9" fill="#b2dfdb"/>
<rect x="1466" y="568" width="6" height="8" fill="#b2dfdb"/>
<rect x="1473" y="569" width="6" height="7" fill="#b2dfdb"/>
<rect x="1480" y="569" width="6" height="7" fill="#b2dfdb"/>
<rect x="1487" y="574" width="7" height="2" fill="#b2dfdb"/>
<rect x="1495" y="575" width="6" height="5" fill="#ff5252"/>
<rect x="1502" y="575" width="6" height="5" fill="#ffcdd2"/>
<rect x="1509" y="575" width="6" height="8" fill="#ff5252"/>
<rect x="1516" y="575" width="6" height="6" fill="#ffcdd2"/>
<rect x="1523" y="575" width="6" height="6" fill="#ffcdd2"/>
<rect x="1530" y="575" width="6" height="3" fill="#ffcdd2"/>
<rect x="1537" y="572" width="7" height="4" fill="#26a69a"/>
<rect x="1545" y="571" width="6" height="5" fill="#26a69a"/>
<rect x="1552" y="571" width="6" height="5" fill="#26a69a"/>
<rect x="1559" y="572" width="6" height="4" fill="#b2dfdb"/>
<rect x="1566" y="575" width="6" height="1" fill="#b2dfdb"/>
<rect x="1573" y="575" width="6" height="2" fill="#ff5252"/>
<rect x="1580" y="575" width="6" height="3" fill="#ff5252"/>
<rect x="1587" y="575" width="7" height="5" fill="#ff5252"/>
<rect x="1595" y="575" width="6" height="4" fill="#ffcdd2"/>
<rect x="1602" y="575" width="6" height="6" fill="#ff5252"/>
<rect x="1609" y="575" width="6" height="9" fill="#ff5252"/>
<rect x="1616" y="575" width="6" height="11" fill="#ff5252"/>
</g>
<line x1="15" y1="575.5" x2="1694" y2="575.5" stroke="#a9acb4" stroke-width="1" stroke-dasharray="5 6" shape-rendering="crispEdges"/>
<polyline points="15.9,607.4 25.1,607.4 33.4,606.3 43.5,603.4 68.6,597.0 91.2,592.9 110.5,586.2 127.2,581.6 140.6,576.9 149.0,574.4 160.7,572.3 177.5,570.7 191.7,571.1 205.9,571.9 219.3,569.9 234.4,566.6 244.5,561.9 255.4,557.2 264.6,554.7 271.3,553.7 284.0,553.3 301.7,554.8 318.5,556.2 335.2,559.9 352.0,563.5 362.9,566.4 376.8,571.9 391.0,576.6 405.2,579.5 412.6,581.1 427.0,584.1 436.6,584.5 448.3,583.6 455.0,582.8 469.2,582.1 483.5,583.1 491.0,583.0 505.2,583.3 519.5,583.8 534.0,585.8 548.3,586.8 562.2,586.2 569.6,586.1 584.0,584.5 598.1,582.3 611.9,579.7 626.1,577.5 641.0,575.4 647.9,574.1 655.1,572.2 662.0,569.0 669.2,564.7 676.4,560.2 683.9,554.9 690.8,547.4 698.0,541.0 705.2,534.9 712.1,527.7 719.0,518.4 726.5,509.6 733.7,501.6 740.9,494.4 748.1,488.3 755.0,485.4 761.9,484.6 769.1,484.8 776.3,487.0 783.8,489.6 790.7,493.1 797.9,497.1 805.1,501.6 812.0,507.5 818.9,513.1 826.4,519.7 833.6,526.4 840.9,531.7 848.1,537.1 855.1,541.4 862.1,543.9 869.3,545.1 883.6,546.1 898.1,547.3 905.3,547.3 912.0,548.1 919.2,549.8 926.3,551.8 933.5,553.5 940.8,555.5 948.0,558.9 955.1,562.7 962.3,566.1 969.3,568.6 976.2,570.2 983.7,571.9 990.8,574.4 998.0,576.1 1005.0,577.3 1012.2,578.6 1019.2,580.6 1026.3,582.3 1033.8,584.5 1041.0,587.0 1048.0,589.0 1055.2,590.3 1062.4,591.7 1069.5,592.7 1076.5,593.4 1083.7,593.4 1090.9,592.9 1097.9,591.7 1105.1,589.5 1112.2,587.3 1119.2,584.4 1126.2,581.6 1133.4,578.6 1140.6,576.6 1147.8,574.9 1154.9,572.7 1161.9,571.4 1169.1,570.5 1176.2,570.0 1183.4,569.9 1190.7,570.7 1197.9,571.9 1205.1,573.2 1212.2,575.2 1219.2,577.7 1226.7,580.2 1233.9,581.6 1241.0,582.8 1248.2,583.6 1255.2,583.6 1262.4,582.8 1269.4,581.1 1276.6,579.9 1283.8,578.6 1290.5,577.7 1297.9,577.6 1305.1,577.7 1312.1,578.6 1319.3,581.9 1326.5,586.1 1333.7,590.3 1340.8,594.5 1347.8,597.5 1355.0,601.2 1362.1,605.0 1369.3,609.6 1376.3,612.9 1384.2,615.7 1390.9,616.6 1398.1,617.4 1405.1,618.1 1412.3,618.3 1419.3,617.4 1426.5,615.4 1433.7,612.1 1440.8,608.7 1448.0,605.7 1455.2,602.5 1462.2,600.0 1469.4,598.3 1476.6,597.0 1483.8,595.7 1490.8,595.5 1498.0,596.5 1505.1,597.5 1512.3,599.0 1519.3,600.3 1526.5,601.3 1533.7,601.7 1540.8,600.7 1548.0,599.3 1555.0,598.3 1562.2,597.8 1569.4,597.7 1576.4,597.8 1583.6,598.3 1590.8,599.0 1597.9,599.7 1605.1,600.7 1612.3,602.9 1619.3,605.0" fill="none" stroke="#ff6d00" stroke-width="1.7" stroke-linejoin="round" stroke-linecap="round"/>
<polyline points="15.9,611.3 20.0,609.6 26.7,603.7 40.1,596.7 48.5,594.5 68.6,591.2 91.2,587.3 97.1,583.3 105.5,579.0 113.8,576.1 127.2,573.3 142.3,567.2 149.0,566.6 155.7,567.4 169.1,567.6 180.8,569.4 191.7,572.3 199.2,573.3 205.9,574.4 213.0,570.2 219.3,566.6 226.9,560.2 233.6,558.9 241.1,553.5 247.8,547.1 255.4,544.3 262.9,546.8 269.6,548.8 276.3,551.5 284.4,552.0 291.7,554.3 298.4,556.5 305.1,557.5 312.6,557.8 319.3,561.4 326.9,563.9 333.9,565.2 341.1,567.6 348.1,568.9 355.3,571.1 362.9,573.9 368.7,579.0 376.8,582.3 383.8,584.1 391.3,585.3 398.2,584.6 405.2,585.3 412.6,588.7 419.8,589.2 427.0,589.0 434.1,586.5 441.1,583.3 448.3,580.6 455.0,579.0 462.2,580.0 469.2,581.6 476.8,583.6 483.5,584.6 491.0,583.1 498.5,583.8 505.2,584.1 512.4,584.6 519.5,585.8 526.7,588.3 534.0,591.2 541.2,589.2 548.3,587.0 555.1,585.0 562.2,585.7 569.6,585.0 576.5,582.9 584.0,580.7 590.9,578.9 598.1,578.6 605.0,576.7 611.9,574.9 619.1,574.3 626.1,574.1 634.1,571.7 641.0,570.6 647.9,568.5 655.1,564.7 662.0,556.8 669.2,547.7 676.4,540.2 683.9,532.3 690.8,522.9 698.0,517.3 705.2,510.4 712.1,495.0 719.0,483.8 726.5,476.8 733.7,471.5 740.9,466.2 748.6,463.0 755.0,472.3 761.9,480.3 769.1,488.3 776.3,495.0 783.8,500.3 790.7,506.9 797.9,513.1 805.1,519.5 812.0,528.3 818.9,536.2 826.4,547.7 833.6,552.5 840.9,553.5 848.1,557.2 855.1,559.9 862.1,554.3 869.3,549.3 876.4,548.1 883.6,548.1 891.1,550.5 898.1,548.5 905.3,547.6 912.0,551.5 919.2,555.2 926.3,558.2 933.5,560.7 940.8,563.9 948.0,571.1 955.1,575.8 962.3,580.8 969.3,579.5 976.2,578.6 983.7,578.6 990.8,583.3 998.0,582.5 1005.0,582.8 1012.2,583.3 1019.2,587.8 1026.3,590.8 1033.8,594.2 1041.0,597.2 1048.0,596.4 1055.2,596.2 1062.4,597.0 1069.5,597.0 1076.5,596.7 1083.7,594.2 1090.9,589.8 1097.9,587.0 1105.1,582.8 1112.2,578.6 1119.2,573.9 1126.2,569.9 1133.4,568.5 1140.6,568.5 1147.8,568.0 1154.9,566.0 1161.9,564.8 1169.1,566.5 1176.2,568.2 1183.4,569.4 1190.7,573.2 1197.9,578.2 1205.1,578.9 1212.2,583.6 1219.2,586.6 1226.7,589.0 1233.9,588.3 1241.0,587.4 1248.2,586.9 1255.2,583.3 1262.4,578.6 1269.4,575.6 1276.6,574.9 1283.8,573.9 1290.5,573.2 1297.9,575.2 1305.1,576.9 1312.1,580.2 1319.3,593.6 1326.5,604.0 1333.7,608.0 1340.8,608.7 1347.8,611.6 1355.0,615.7 1362.1,620.4 1369.3,625.5 1376.3,626.6 1384.2,625.5 1390.9,622.1 1398.1,620.4 1405.1,620.4 1412.3,618.8 1419.3,613.7 1426.5,607.0 1433.7,600.0 1440.8,595.7 1448.0,592.5 1455.2,590.8 1462.2,592.5 1469.4,591.8 1476.6,591.0 1483.8,589.5 1490.8,594.5 1498.0,600.3 1505.1,601.5 1512.3,605.0 1519.3,605.2 1526.5,605.4 1533.7,603.2 1540.8,597.3 1548.0,595.3 1555.0,594.0 1562.2,594.5 1569.4,596.7 1576.4,598.7 1583.6,600.3 1590.8,602.5 1597.9,602.5 1605.1,605.0 1612.3,610.1 1619.3,614.1" fill="none" stroke="#2962ff" stroke-width="1.7" stroke-linejoin="round" stroke-linecap="round"/>
<text x="26.2" y="69.9" font-size="17.5" fill="#8a8d98" text-anchor="start" font-weight="normal" style="font-family:'Liberation Sans',sans-serif" textLength="190" lengthAdjust="spacingAndGlyphs"  stroke="#8a8d98" stroke-width="0.3">XRPUSD · 1D · Coinbase</text>
<text x="226.7" y="69.9" font-size="17.5" fill="#8a8d98" text-anchor="start" font-weight="normal" style="font-family:'Liberation Sans',sans-serif"  stroke="#8a8d98" stroke-width="0.3">O</text>
<text x="240.4" y="69.9" font-size="17.5" fill="#131722" text-anchor="start" font-weight="normal" style="font-family:'Liberation Sans',sans-serif" textLength="52.2" lengthAdjust="spacingAndGlyphs"  stroke="#131722" stroke-width="0.3">1.9973</text>
<text x="304" y="69.9" font-size="17.5" fill="#8a8d98" text-anchor="start" font-weight="normal" style="font-family:'Liberation Sans',sans-serif"  stroke="#8a8d98" stroke-width="0.3">H</text>
<text x="315.4" y="69.9" font-size="17.5" fill="#131722" text-anchor="start" font-weight="normal" style="font-family:'Liberation Sans',sans-serif" textLength="53" lengthAdjust="spacingAndGlyphs"  stroke="#131722" stroke-width="0.3">2.0282</text>
<text x="380" y="69.9" font-size="17.5" fill="#8a8d98" text-anchor="start" font-weight="normal" style="font-family:'Liberation Sans',sans-serif"  stroke="#8a8d98" stroke-width="0.3">L</text>
<text x="391.3" y="69.9" font-size="17.5" fill="#131722" text-anchor="start" font-weight="normal" style="font-family:'Liberation Sans',sans-serif" textLength="51" lengthAdjust="spacingAndGlyphs"  stroke="#131722" stroke-width="0.3">1.9512</text>
<text x="453.5" y="69.9" font-size="17.5" fill="#8a8d98" text-anchor="start" font-weight="normal" style="font-family:'Liberation Sans',sans-serif"  stroke="#8a8d98" stroke-width="0.3">C</text>
<text x="465.5" y="69.9" font-size="17.5" fill="#131722" text-anchor="start" font-weight="normal" style="font-family:'Liberation Sans',sans-serif" textLength="53" lengthAdjust="spacingAndGlyphs"  stroke="#131722" stroke-width="0.3">1.9668</text>
<text x="529.7" y="69.9" font-size="17.5" fill="#131722" text-anchor="start" font-weight="normal" style="font-family:'Liberation Sans',sans-serif" textLength="62.3" lengthAdjust="spacingAndGlyphs"  stroke="#131722" stroke-width="0.3">−0.0306</text>
<text x="599.3" y="69.9" font-size="17.5" fill="#131722" text-anchor="start" font-weight="normal" style="font-family:'Liberation Sans',sans-serif" textLength="67" lengthAdjust="spacingAndGlyphs"  stroke="#131722" stroke-width="0.3">(−1.53%)</text>
<text x="28" y="95.5" font-size="17.5" fill="#8a8d98" text-anchor="start" font-weight="normal" style="font-family:'Liberation Sans',sans-serif" textLength="18" lengthAdjust="spacingAndGlyphs"  stroke="#8a8d98" stroke-width="0.3">...</text>
<text x="26.3" y="471.5" font-size="17.5" fill="#8a8d98" text-anchor="start" font-weight="normal" style="font-family:'Liberation Sans',sans-serif" textLength="167" lengthAdjust="spacingAndGlyphs"  stroke="#8a8d98" stroke-width="0.3">MACD (12, 26, close)</text>
<text x="205" y="471.5" font-size="17.5" fill="#ff5252" text-anchor="start" font-weight="normal" style="font-family:'Liberation Sans',sans-serif" textLength="62.8" lengthAdjust="spacingAndGlyphs"  stroke="#ff5252" stroke-width="0.3">−0.0273</text>
<text x="278.6" y="471.5" font-size="17.5" fill="#2962ff" text-anchor="start" font-weight="normal" style="font-family:'Liberation Sans',sans-serif" textLength="63.4" lengthAdjust="spacingAndGlyphs"  stroke="#2962ff" stroke-width="0.3">−0.1162</text>
<text x="352.9" y="471.5" font-size="17.5" fill="#ff6d00" text-anchor="start" font-weight="normal" style="font-family:'Liberation Sans',sans-serif" textLength="63" lengthAdjust="spacingAndGlyphs"  stroke="#ff6d00" stroke-width="0.3">−0.0889</text>
<text x="14.2" y="28.9" font-size="17.5" fill="#dcdcdc" text-anchor="start" font-weight="normal" style="font-family:'Liberation Sans',sans-serif" textLength="97.8" lengthAdjust="spacingAndGlyphs"  stroke="#dcdcdc" stroke-width="0.7">sasmaishera</text>
<text x="117.10000000000001" y="28.9" font-size="17.5" fill="#dcdcdc" text-anchor="start" font-weight="normal" style="font-family:'Liberation Sans',sans-serif" textLength="61.8" lengthAdjust="spacingAndGlyphs"  stroke="#dcdcdc" stroke-width="0.7">created</text>
<text x="184.89999999999998" y="28.9" font-size="17.5" fill="#dcdcdc" text-anchor="start" font-weight="normal" style="font-family:'Liberation Sans',sans-serif" textLength="35.9" lengthAdjust="spacingAndGlyphs"  stroke="#dcdcdc" stroke-width="0.7">with</text>
<text x="225.89999999999998" y="28.9" font-size="17.5" fill="#dcdcdc" text-anchor="start" font-weight="normal" style="font-family:'Liberation Sans',sans-serif" textLength="141.8" lengthAdjust="spacingAndGlyphs"  stroke="#dcdcdc" stroke-width="0.7">TradingView.com,</text>
<text x="373.7" y="28.9" font-size="17.5" fill="#dcdcdc" text-anchor="start" font-weight="normal" style="font-family:'Liberation Sans',sans-serif" textLength="29.2" lengthAdjust="spacingAndGlyphs"  stroke="#dcdcdc" stroke-width="0.7">Nov</text>
<text x="408.8" y="28.9" font-size="17.5" fill="#dcdcdc" text-anchor="start" font-weight="normal" style="font-family:'Liberation Sans',sans-serif" textLength="25.0" lengthAdjust="spacingAndGlyphs"  stroke="#dcdcdc" stroke-width="0.7">21,</text>
<text x="439.4" y="28.9" font-size="17.5" fill="#dcdcdc" text-anchor="start" font-weight="normal" style="font-family:'Liberation Sans',sans-serif" textLength="37.9" lengthAdjust="spacingAndGlyphs"  stroke="#dcdcdc" stroke-width="0.7">2025</text>
<text x="482.9" y="28.9" font-size="17.5" fill="#dcdcdc" text-anchor="start" font-weight="normal" style="font-family:'Liberation Sans',sans-serif" textLength="45.1" lengthAdjust="spacingAndGlyphs"  stroke="#dcdcdc" stroke-width="0.7">08:00</text>
<text x="532.9000000000001" y="28.9" font-size="17.5" fill="#dcdcdc" text-anchor="start" font-weight="normal" style="font-family:'Liberation Sans',sans-serif" textLength="50.6" lengthAdjust="spacingAndGlyphs"  stroke="#dcdcdc" stroke-width="0.7">UTC+1</text>
<text x="1707" y="120.4" font-size="15" fill="#8a8d98" text-anchor="start" font-weight="normal" style="font-family:'Liberation Sans',sans-serif" textLength="45.3" lengthAdjust="spacingAndGlyphs"  stroke="#8a8d98" stroke-width="0.3">3.0000</text>
<text x="1707" y="208" font-size="15" fill="#8a8d98" text-anchor="start" font-weight="normal" style="font-family:'Liberation Sans',sans-serif" textLength="45.3" lengthAdjust="spacingAndGlyphs"  stroke="#8a8d98" stroke-width="0.3">2.5000</text>
<text x="1707" y="382.5" font-size="15" fill="#8a8d98" text-anchor="start" font-weight="normal" style="font-family:'Liberation Sans',sans-serif" textLength="45.3" lengthAdjust="spacingAndGlyphs"  stroke="#8a8d98" stroke-width="0.3">1.5000</text>
<text x="1707" y="514.3" font-size="15" fill="#8a8d98" text-anchor="start" font-weight="normal" style="font-family:'Liberation Sans',sans-serif" textLength="45.3" lengthAdjust="spacingAndGlyphs"  stroke="#8a8d98" stroke-width="0.3">0.2000</text>
<text x="1707" y="581.3" font-size="15" fill="#8a8d98" text-anchor="start" font-weight="normal" style="font-family:'Liberation Sans',sans-serif" textLength="45.3" lengthAdjust="spacingAndGlyphs"  stroke="#8a8d98" stroke-width="0.3">0.0000</text>
<text x="1706.8" y="646.5" font-size="15" fill="#8a8d98" text-anchor="start" font-weight="normal" style="font-family:'Liberation Sans',sans-serif" textLength="52.6" lengthAdjust="spacingAndGlyphs"  stroke="#8a8d98" stroke-width="0.3">−0.2000</text>
<rect x="1695" y="645" width="83" height="12" fill="#fff"/>
<rect x="15" y="644" width="1763" height="1" fill="#5d606b" shape-rendering="crispEdges"/>
<rect x="1694" y="41" width="1" height="616" fill="#787b86" shape-rendering="crispEdges"/>
<path d="M1695,247 h73.5 a2.5,2.5 0 0 1 2.5,2.5 v34.0 a2.5,2.5 0 0 1 -2.5,2.5 h-73.5 z" fill="#000"/>
<path d="M1695,286 h60.5 a2.5,2.5 0 0 1 2.5,2.5 v15.7 a2.5,2.5 0 0 1 -2.5,2.5 h-60.5 z" fill="#388e84"/>
<text x="1707.3" y="263" font-size="15" fill="#fff" text-anchor="start" font-weight="normal" style="font-family:'Liberation Sans',sans-serif" textLength="45" lengthAdjust="spacingAndGlyphs"  stroke="#fff" stroke-width="0.3">1.9668</text>
<text x="1707.3" y="281.3" font-size="15" fill="#c8c8c8" text-anchor="start" font-weight="normal" style="font-family:'Liberation Sans',sans-serif" textLength="58" lengthAdjust="spacingAndGlyphs"  stroke="#c8c8c8" stroke-width="0.3">16:59:25</text>
<text x="1707.3" y="302.3" font-size="15" fill="#fff" text-anchor="start" font-weight="normal" style="font-family:'Liberation Sans',sans-serif" textLength="45" lengthAdjust="spacingAndGlyphs"  stroke="#fff" stroke-width="0.3">1.9668</text>
<path d="M1695,575 h69.2 a2.5,2.5 0 0 1 2.5,2.5 v16.0 a2.5,2.5 0 0 1 -2.5,2.5 h-69.2 z" fill="#ff5252"/>
<path d="M1695,596 h69.2 a2.5,2.5 0 0 1 2.5,2.5 v16.0 a2.5,2.5 0 0 1 -2.5,2.5 h-69.2 z" fill="#ff6d00"/>
<path d="M1695,617 h69.2 a2.5,2.5 0 0 1 2.5,2.5 v15.5 a2.5,2.5 0 0 1 -2.5,2.5 h-69.2 z" fill="#2962ff"/>
<text x="1706.8" y="590.5" font-size="15" fill="#fff" text-anchor="start" font-weight="normal" style="font-family:'Liberation Sans',sans-serif" textLength="52.6" lengthAdjust="spacingAndGlyphs"  stroke="#fff" stroke-width="0.3">−0.0273</text>
<text x="1706.8" y="611.6" font-size="15" fill="#fff" text-anchor="start" font-weight="normal" style="font-family:'Liberation Sans',sans-serif" textLength="52.6" lengthAdjust="spacingAndGlyphs"  stroke="#fff" stroke-width="0.3">−0.0889</text>
<text x="1706.8" y="632.7" font-size="15" fill="#fff" text-anchor="start" font-weight="normal" style="font-family:'Liberation Sans',sans-serif" textLength="52.6" lengthAdjust="spacingAndGlyphs"  stroke="#fff" stroke-width="0.3">−0.1162</text>
<g fill="none">
<circle cx="1654.9" cy="422.3" r="14.9" stroke="#f5222d" stroke-width="2.3" fill="#fff"/>
<clipPath id="fl2"><circle cx="1654.9" cy="422.3" r="12"/></clipPath>
<g clip-path="url(#fl2)">
<rect x="1640.9" y="409" width="28" height="28" fill="#fff"/>
<rect x="1656.9" y="411.2" width="14" height="4.9" fill="#ef5350"/>
<rect x="1656.9" y="420.3" width="14" height="4.5" fill="#ef5350"/>
<rect x="1640.9" y="429.4" width="28" height="6" fill="#ef5350"/>
<rect x="1640.9" y="409" width="16.5" height="15.8" fill="#1e88e5"/>
<g fill="#fff"><rect x="1645.3" y="412.6" width="1.7" height="1.7"/><rect x="1649.3" y="412.6" width="1.7" height="1.7"/><rect x="1653.3" y="412.6" width="1.7" height="1.7"/><rect x="1645.3" y="416.5" width="1.7" height="1.7"/><rect x="1649.3" y="416.5" width="1.7" height="1.7"/><rect x="1653.3" y="416.5" width="1.7" height="1.7"/><rect x="1645.3" y="420.4" width="1.7" height="1.7"/><rect x="1649.3" y="420.4" width="1.7" height="1.7"/><rect x="1653.3" y="420.4" width="1.7" height="1.7"/></g></g>
<circle cx="1647.3" cy="422.3" r="14.9" stroke="#f5222d" stroke-width="2.3" fill="#fff"/>
<clipPath id="fl1"><circle cx="1647.3" cy="422.3" r="12"/></clipPath>
<g clip-path="url(#fl1)">
<rect x="1633.3" y="409" width="28" height="28" fill="#fff"/>
<rect x="1649.3" y="411.2" width="14" height="4.9" fill="#ef5350"/>
<rect x="1649.3" y="420.3" width="14" height="4.5" fill="#ef5350"/>
<rect x="1633.3" y="429.4" width="28" height="6" fill="#ef5350"/>
<rect x="1633.3" y="409" width="16.5" height="15.8" fill="#1e88e5"/>
<g fill="#fff"><rect x="1637.7" y="412.6" width="1.7" height="1.7"/><rect x="1641.7" y="412.6" width="1.7" height="1.7"/><rect x="1645.7" y="412.6" width="1.7" height="1.7"/><rect x="1637.7" y="416.5" width="1.7" height="1.7"/><rect x="1641.7" y="416.5" width="1.7" height="1.7"/><rect x="1645.7" y="416.5" width="1.7" height="1.7"/><rect x="1637.7" y="420.4" width="1.7" height="1.7"/><rect x="1641.7" y="420.4" width="1.7" height="1.7"/><rect x="1645.7" y="420.4" width="1.7" height="1.7"/></g></g>
<path d="M1606.33,418.22 A13.5,13.5 0 1 1 1609.99,432.17" stroke="#9c27b0" stroke-width="2.2"/>
<path d="M1624.3,414.4 L1613.0,422.7 L1619.6,422.7 L1614.6,430.4 L1626.9,421.2 L1620.2,421.2 Z" fill="#9c27b0"/>
<path d="M1603.5,420.3 q1.1,6.4 7.5,7.5 q-6.4,1.1 -7.5,7.5 q-1.1,-6.4 -7.5,-7.5 q6.4,-1.1 7.5,-7.5 z" fill="#7c4dff"/>
</g>
</svg>
</body></html>
